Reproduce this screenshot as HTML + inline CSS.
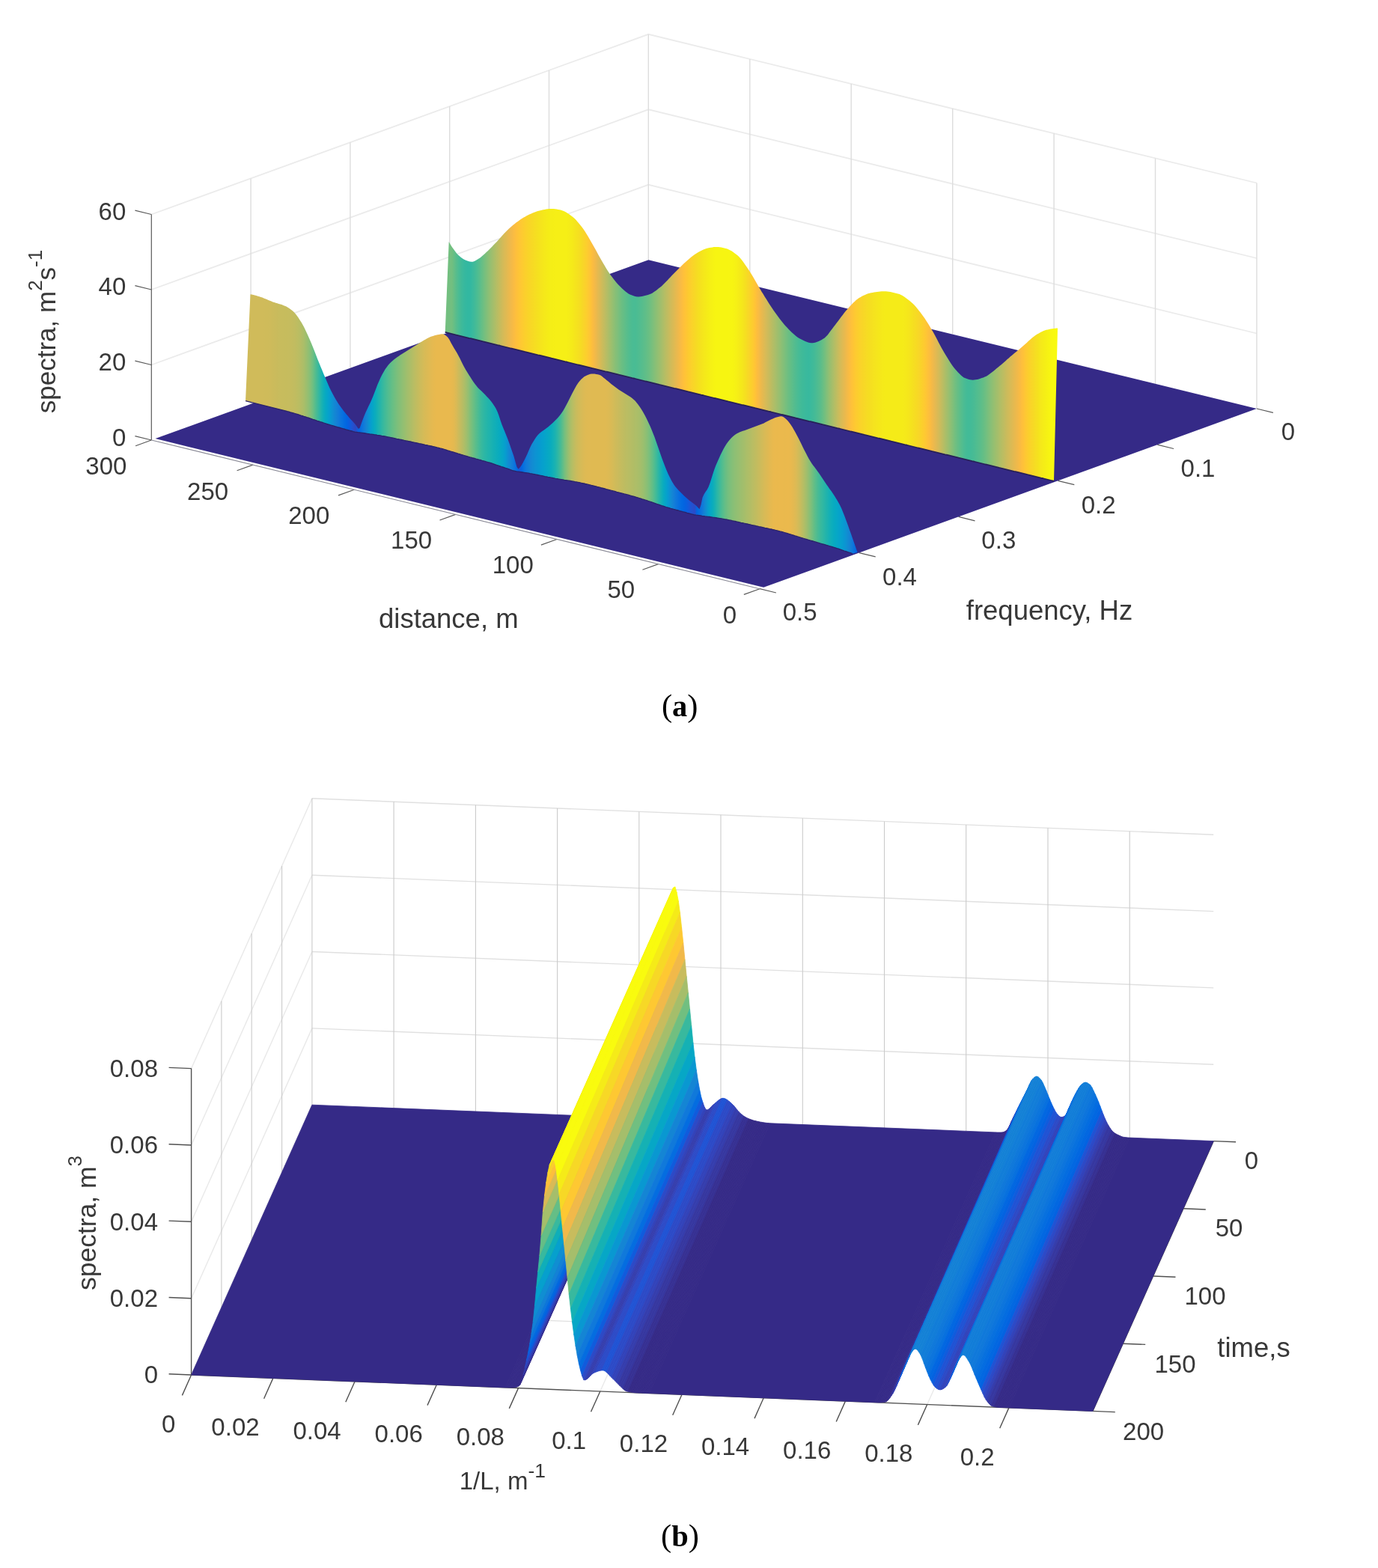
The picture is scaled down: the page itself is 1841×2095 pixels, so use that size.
<!DOCTYPE html>
<html lang="en"><head><meta charset="utf-8"><title>Spectra figure</title><style>html,body{margin:0;padding:0;background:#fff}svg{display:block}</style></head><body><svg width="1841" height="2095" viewBox="0 0 1841 2095">
<defs><linearGradient id="gb" gradientUnits="userSpaceOnUse" x1="594.7" y1="0" x2="1413.0" y2="0"><stop offset="0.0000" stop-color="#73bf80"/><stop offset="0.0037" stop-color="#73bf80"/><stop offset="0.0073" stop-color="#73bf80"/><stop offset="0.0110" stop-color="#73bf80"/><stop offset="0.0147" stop-color="#65be86"/><stop offset="0.0183" stop-color="#57bd8d"/><stop offset="0.0220" stop-color="#4bbc93"/><stop offset="0.0257" stop-color="#41ba98"/><stop offset="0.0293" stop-color="#3ab99d"/><stop offset="0.0330" stop-color="#35b89f"/><stop offset="0.0367" stop-color="#32b8a1"/><stop offset="0.0403" stop-color="#32b8a1"/><stop offset="0.0440" stop-color="#38b99e"/><stop offset="0.0477" stop-color="#40ba99"/><stop offset="0.0513" stop-color="#49bc94"/><stop offset="0.0550" stop-color="#54bd8e"/><stop offset="0.0587" stop-color="#61be88"/><stop offset="0.0623" stop-color="#6ebf82"/><stop offset="0.0660" stop-color="#7bbf7c"/><stop offset="0.0697" stop-color="#88bf77"/><stop offset="0.0733" stop-color="#94bf72"/><stop offset="0.0770" stop-color="#a0be6d"/><stop offset="0.0807" stop-color="#abbe68"/><stop offset="0.0843" stop-color="#b6bd64"/><stop offset="0.0880" stop-color="#c1bc5f"/><stop offset="0.0917" stop-color="#ccbb5b"/><stop offset="0.0953" stop-color="#d6ba57"/><stop offset="0.0990" stop-color="#deba53"/><stop offset="0.1027" stop-color="#e7b94f"/><stop offset="0.1063" stop-color="#efb94b"/><stop offset="0.1100" stop-color="#f6ba46"/><stop offset="0.1137" stop-color="#fcbd40"/><stop offset="0.1173" stop-color="#fec13a"/><stop offset="0.1210" stop-color="#fec536"/><stop offset="0.1246" stop-color="#fec932"/><stop offset="0.1283" stop-color="#fccd2e"/><stop offset="0.1320" stop-color="#fbd12b"/><stop offset="0.1356" stop-color="#f9d429"/><stop offset="0.1393" stop-color="#f8d726"/><stop offset="0.1430" stop-color="#f7da24"/><stop offset="0.1466" stop-color="#f6dd22"/><stop offset="0.1503" stop-color="#f5e020"/><stop offset="0.1540" stop-color="#f5e31e"/><stop offset="0.1576" stop-color="#f5e51c"/><stop offset="0.1613" stop-color="#f5e81a"/><stop offset="0.1650" stop-color="#f5ea19"/><stop offset="0.1686" stop-color="#f5ec17"/><stop offset="0.1723" stop-color="#f5ee17"/><stop offset="0.1760" stop-color="#f5ee16"/><stop offset="0.1796" stop-color="#f6ef16"/><stop offset="0.1833" stop-color="#f6ef16"/><stop offset="0.1870" stop-color="#f6ef16"/><stop offset="0.1906" stop-color="#f6ef16"/><stop offset="0.1943" stop-color="#f6ef16"/><stop offset="0.1980" stop-color="#f6ef16"/><stop offset="0.2016" stop-color="#f5ed17"/><stop offset="0.2053" stop-color="#f5eb19"/><stop offset="0.2090" stop-color="#f5e81a"/><stop offset="0.2126" stop-color="#f5e41d"/><stop offset="0.2163" stop-color="#f5e11f"/><stop offset="0.2200" stop-color="#f6dd22"/><stop offset="0.2236" stop-color="#f7d826"/><stop offset="0.2273" stop-color="#fad32a"/><stop offset="0.2310" stop-color="#fcce2e"/><stop offset="0.2346" stop-color="#fec833"/><stop offset="0.2383" stop-color="#fec13a"/><stop offset="0.2420" stop-color="#f9bb43"/><stop offset="0.2456" stop-color="#f0b94a"/><stop offset="0.2493" stop-color="#e4b950"/><stop offset="0.2530" stop-color="#d9ba56"/><stop offset="0.2566" stop-color="#ccbb5b"/><stop offset="0.2603" stop-color="#c1bc60"/><stop offset="0.2640" stop-color="#b5bd65"/><stop offset="0.2676" stop-color="#a9be69"/><stop offset="0.2713" stop-color="#9dbf6e"/><stop offset="0.2750" stop-color="#91bf73"/><stop offset="0.2786" stop-color="#86bf77"/><stop offset="0.2823" stop-color="#7cbf7c"/><stop offset="0.2860" stop-color="#71bf80"/><stop offset="0.2896" stop-color="#68be84"/><stop offset="0.2933" stop-color="#60be88"/><stop offset="0.2970" stop-color="#58bd8c"/><stop offset="0.3006" stop-color="#51bd8f"/><stop offset="0.3043" stop-color="#4cbc92"/><stop offset="0.3080" stop-color="#49bc94"/><stop offset="0.3116" stop-color="#4abc93"/><stop offset="0.3153" stop-color="#4ebc91"/><stop offset="0.3190" stop-color="#53bd8f"/><stop offset="0.3226" stop-color="#58bd8c"/><stop offset="0.3263" stop-color="#5ebe89"/><stop offset="0.3300" stop-color="#65be86"/><stop offset="0.3336" stop-color="#6dbf82"/><stop offset="0.3373" stop-color="#77bf7e"/><stop offset="0.3410" stop-color="#82bf79"/><stop offset="0.3446" stop-color="#8cbf75"/><stop offset="0.3483" stop-color="#96bf71"/><stop offset="0.3519" stop-color="#a1be6d"/><stop offset="0.3556" stop-color="#acbe68"/><stop offset="0.3593" stop-color="#b7bd64"/><stop offset="0.3629" stop-color="#c1bc60"/><stop offset="0.3666" stop-color="#cbbb5c"/><stop offset="0.3703" stop-color="#d5ba57"/><stop offset="0.3739" stop-color="#deba53"/><stop offset="0.3776" stop-color="#e8b94f"/><stop offset="0.3813" stop-color="#f1b94a"/><stop offset="0.3849" stop-color="#f9bb44"/><stop offset="0.3886" stop-color="#febf3c"/><stop offset="0.3923" stop-color="#ffc436"/><stop offset="0.3959" stop-color="#fdc931"/><stop offset="0.3996" stop-color="#fcce2d"/><stop offset="0.4033" stop-color="#fad32a"/><stop offset="0.4069" stop-color="#f8d726"/><stop offset="0.4106" stop-color="#f6db23"/><stop offset="0.4143" stop-color="#f5e020"/><stop offset="0.4179" stop-color="#f5e31d"/><stop offset="0.4216" stop-color="#f5e71b"/><stop offset="0.4253" stop-color="#f5ea19"/><stop offset="0.4289" stop-color="#f5ed17"/><stop offset="0.4326" stop-color="#f6f015"/><stop offset="0.4363" stop-color="#f6f214"/><stop offset="0.4399" stop-color="#f7f412"/><stop offset="0.4436" stop-color="#f7f512"/><stop offset="0.4473" stop-color="#f7f512"/><stop offset="0.4509" stop-color="#f7f511"/><stop offset="0.4546" stop-color="#f7f511"/><stop offset="0.4583" stop-color="#f7f511"/><stop offset="0.4619" stop-color="#f7f511"/><stop offset="0.4656" stop-color="#f7f512"/><stop offset="0.4693" stop-color="#f7f412"/><stop offset="0.4729" stop-color="#f6f214"/><stop offset="0.4766" stop-color="#f6ef16"/><stop offset="0.4803" stop-color="#f5eb18"/><stop offset="0.4839" stop-color="#f5e81b"/><stop offset="0.4876" stop-color="#f5e31e"/><stop offset="0.4913" stop-color="#f6dd22"/><stop offset="0.4949" stop-color="#f8d727"/><stop offset="0.4986" stop-color="#fbd12b"/><stop offset="0.5023" stop-color="#fdcb30"/><stop offset="0.5059" stop-color="#ffc436"/><stop offset="0.5096" stop-color="#fcbd3f"/><stop offset="0.5133" stop-color="#f4ba47"/><stop offset="0.5169" stop-color="#e9b94e"/><stop offset="0.5206" stop-color="#dfba53"/><stop offset="0.5243" stop-color="#d4bb58"/><stop offset="0.5279" stop-color="#cabb5c"/><stop offset="0.5316" stop-color="#bfbc60"/><stop offset="0.5353" stop-color="#b4bd65"/><stop offset="0.5389" stop-color="#aabe69"/><stop offset="0.5426" stop-color="#9fbe6d"/><stop offset="0.5463" stop-color="#95bf71"/><stop offset="0.5499" stop-color="#8abf76"/><stop offset="0.5536" stop-color="#7fbf7a"/><stop offset="0.5573" stop-color="#74bf7f"/><stop offset="0.5609" stop-color="#6abe83"/><stop offset="0.5646" stop-color="#61be87"/><stop offset="0.5683" stop-color="#59bd8c"/><stop offset="0.5719" stop-color="#51bc90"/><stop offset="0.5756" stop-color="#4abc94"/><stop offset="0.5792" stop-color="#44bb97"/><stop offset="0.5829" stop-color="#3fba99"/><stop offset="0.5866" stop-color="#3cba9b"/><stop offset="0.5902" stop-color="#3ab99d"/><stop offset="0.5939" stop-color="#38b99e"/><stop offset="0.5976" stop-color="#3cba9b"/><stop offset="0.6012" stop-color="#41ba98"/><stop offset="0.6049" stop-color="#48bb95"/><stop offset="0.6086" stop-color="#50bc90"/><stop offset="0.6122" stop-color="#58bd8c"/><stop offset="0.6159" stop-color="#64be86"/><stop offset="0.6196" stop-color="#73bf7f"/><stop offset="0.6232" stop-color="#83bf79"/><stop offset="0.6269" stop-color="#93bf72"/><stop offset="0.6306" stop-color="#a1be6c"/><stop offset="0.6342" stop-color="#aebe67"/><stop offset="0.6379" stop-color="#bbbd62"/><stop offset="0.6416" stop-color="#c8bc5d"/><stop offset="0.6452" stop-color="#d4bb58"/><stop offset="0.6489" stop-color="#dfba53"/><stop offset="0.6526" stop-color="#e9b94e"/><stop offset="0.6562" stop-color="#f3ba48"/><stop offset="0.6599" stop-color="#fbbc41"/><stop offset="0.6636" stop-color="#fec13a"/><stop offset="0.6672" stop-color="#fec634"/><stop offset="0.6709" stop-color="#fdcb30"/><stop offset="0.6746" stop-color="#fbcf2d"/><stop offset="0.6782" stop-color="#fad32a"/><stop offset="0.6819" stop-color="#f8d627"/><stop offset="0.6856" stop-color="#f7d925"/><stop offset="0.6892" stop-color="#f6dc23"/><stop offset="0.6929" stop-color="#f5de21"/><stop offset="0.6966" stop-color="#f5e020"/><stop offset="0.7002" stop-color="#f5e31e"/><stop offset="0.7039" stop-color="#f5e51d"/><stop offset="0.7076" stop-color="#f5e71b"/><stop offset="0.7112" stop-color="#f5e81a"/><stop offset="0.7149" stop-color="#f5ea19"/><stop offset="0.7186" stop-color="#f5eb18"/><stop offset="0.7222" stop-color="#f5eb18"/><stop offset="0.7259" stop-color="#f5eb18"/><stop offset="0.7296" stop-color="#f5eb18"/><stop offset="0.7332" stop-color="#f5eb18"/><stop offset="0.7369" stop-color="#f5eb18"/><stop offset="0.7406" stop-color="#f5eb18"/><stop offset="0.7442" stop-color="#f5eb18"/><stop offset="0.7479" stop-color="#f5eb19"/><stop offset="0.7516" stop-color="#f5e91a"/><stop offset="0.7552" stop-color="#f5e71b"/><stop offset="0.7589" stop-color="#f5e41d"/><stop offset="0.7626" stop-color="#f5e11f"/><stop offset="0.7662" stop-color="#f6dd22"/><stop offset="0.7699" stop-color="#f7da24"/><stop offset="0.7736" stop-color="#f8d628"/><stop offset="0.7772" stop-color="#fad12b"/><stop offset="0.7809" stop-color="#fdcc2f"/><stop offset="0.7846" stop-color="#fec734"/><stop offset="0.7882" stop-color="#fec13a"/><stop offset="0.7919" stop-color="#fbbc41"/><stop offset="0.7956" stop-color="#f2b949"/><stop offset="0.7992" stop-color="#e8b94f"/><stop offset="0.8029" stop-color="#ddba54"/><stop offset="0.8066" stop-color="#d1bb59"/><stop offset="0.8102" stop-color="#c4bc5f"/><stop offset="0.8139" stop-color="#b6bd64"/><stop offset="0.8175" stop-color="#a9be69"/><stop offset="0.8212" stop-color="#9cbf6e"/><stop offset="0.8249" stop-color="#8fbf74"/><stop offset="0.8285" stop-color="#82bf79"/><stop offset="0.8322" stop-color="#74bf7f"/><stop offset="0.8359" stop-color="#68be84"/><stop offset="0.8395" stop-color="#5ebe89"/><stop offset="0.8432" stop-color="#54bd8e"/><stop offset="0.8469" stop-color="#4cbc93"/><stop offset="0.8505" stop-color="#45bb96"/><stop offset="0.8542" stop-color="#42bb98"/><stop offset="0.8579" stop-color="#43bb97"/><stop offset="0.8615" stop-color="#47bb95"/><stop offset="0.8652" stop-color="#4cbc92"/><stop offset="0.8689" stop-color="#52bd8f"/><stop offset="0.8725" stop-color="#58bd8c"/><stop offset="0.8762" stop-color="#5fbe88"/><stop offset="0.8799" stop-color="#68be84"/><stop offset="0.8835" stop-color="#72bf80"/><stop offset="0.8872" stop-color="#7dbf7b"/><stop offset="0.8909" stop-color="#88bf77"/><stop offset="0.8945" stop-color="#92bf72"/><stop offset="0.8982" stop-color="#9cbf6e"/><stop offset="0.9019" stop-color="#a5be6b"/><stop offset="0.9055" stop-color="#afbe67"/><stop offset="0.9092" stop-color="#b8bd63"/><stop offset="0.9129" stop-color="#c1bc60"/><stop offset="0.9165" stop-color="#cabb5c"/><stop offset="0.9202" stop-color="#d2bb59"/><stop offset="0.9239" stop-color="#daba55"/><stop offset="0.9275" stop-color="#e2b951"/><stop offset="0.9312" stop-color="#eab94d"/><stop offset="0.9349" stop-color="#f2b949"/><stop offset="0.9385" stop-color="#f9bb43"/><stop offset="0.9422" stop-color="#febf3c"/><stop offset="0.9459" stop-color="#fec536"/><stop offset="0.9495" stop-color="#fdcb30"/><stop offset="0.9532" stop-color="#fbd02c"/><stop offset="0.9569" stop-color="#f9d528"/><stop offset="0.9605" stop-color="#f7d925"/><stop offset="0.9642" stop-color="#f6de22"/><stop offset="0.9679" stop-color="#f5e21e"/><stop offset="0.9715" stop-color="#f5e71b"/><stop offset="0.9752" stop-color="#f5eb18"/><stop offset="0.9789" stop-color="#f5ee16"/><stop offset="0.9825" stop-color="#f6f114"/><stop offset="0.9862" stop-color="#f7f412"/><stop offset="0.9899" stop-color="#f8f710"/><stop offset="0.9935" stop-color="#f8f90f"/><stop offset="0.9972" stop-color="#f9fa0e"/></linearGradient><linearGradient id="gf" gradientUnits="userSpaceOnUse" x1="328.0" y1="0" x2="1145.6" y2="0"><stop offset="0.0000" stop-color="#d0bb5a"/><stop offset="0.0037" stop-color="#d0bb5a"/><stop offset="0.0073" stop-color="#d0bb5a"/><stop offset="0.0110" stop-color="#d0bb5a"/><stop offset="0.0147" stop-color="#d0bb5a"/><stop offset="0.0183" stop-color="#d0bb5a"/><stop offset="0.0220" stop-color="#d0bb5a"/><stop offset="0.0257" stop-color="#d0bb5a"/><stop offset="0.0294" stop-color="#d0bb5a"/><stop offset="0.0330" stop-color="#cfbb5a"/><stop offset="0.0367" stop-color="#cfbb5a"/><stop offset="0.0404" stop-color="#cebb5b"/><stop offset="0.0440" stop-color="#ccbb5b"/><stop offset="0.0477" stop-color="#cbbb5c"/><stop offset="0.0514" stop-color="#c9bb5c"/><stop offset="0.0550" stop-color="#c8bc5d"/><stop offset="0.0587" stop-color="#c7bc5d"/><stop offset="0.0624" stop-color="#c7bc5d"/><stop offset="0.0660" stop-color="#c6bc5d"/><stop offset="0.0697" stop-color="#c6bc5e"/><stop offset="0.0734" stop-color="#c5bc5e"/><stop offset="0.0771" stop-color="#c3bc5f"/><stop offset="0.0807" stop-color="#c1bc60"/><stop offset="0.0844" stop-color="#bdbd61"/><stop offset="0.0881" stop-color="#b9bd63"/><stop offset="0.0917" stop-color="#b2bd66"/><stop offset="0.0954" stop-color="#aabe69"/><stop offset="0.0991" stop-color="#9ebe6d"/><stop offset="0.1027" stop-color="#91bf73"/><stop offset="0.1064" stop-color="#82bf79"/><stop offset="0.1101" stop-color="#6ebf82"/><stop offset="0.1137" stop-color="#57bd8c"/><stop offset="0.1174" stop-color="#41ba98"/><stop offset="0.1211" stop-color="#2db7a5"/><stop offset="0.1248" stop-color="#1ab2b1"/><stop offset="0.1284" stop-color="#0cadbc"/><stop offset="0.1321" stop-color="#06a7c5"/><stop offset="0.1358" stop-color="#06a1cd"/><stop offset="0.1394" stop-color="#0998d1"/><stop offset="0.1431" stop-color="#108ed2"/><stop offset="0.1468" stop-color="#1485d4"/><stop offset="0.1504" stop-color="#137ed7"/><stop offset="0.1541" stop-color="#0f77db"/><stop offset="0.1578" stop-color="#0972de"/><stop offset="0.1614" stop-color="#046ce0"/><stop offset="0.1651" stop-color="#0266e1"/><stop offset="0.1688" stop-color="#095fdf"/><stop offset="0.1725" stop-color="#1857d8"/><stop offset="0.1761" stop-color="#254fce"/><stop offset="0.1798" stop-color="#2e48c2"/><stop offset="0.1835" stop-color="#0d5dde"/><stop offset="0.1871" stop-color="#036be1"/><stop offset="0.1908" stop-color="#0c74dd"/><stop offset="0.1945" stop-color="#137dd8"/><stop offset="0.1981" stop-color="#1487d3"/><stop offset="0.2018" stop-color="#0b95d2"/><stop offset="0.2055" stop-color="#06a0cd"/><stop offset="0.2091" stop-color="#06a8c4"/><stop offset="0.2128" stop-color="#0dadbb"/><stop offset="0.2165" stop-color="#19b2b1"/><stop offset="0.2202" stop-color="#26b5a9"/><stop offset="0.2238" stop-color="#33b8a1"/><stop offset="0.2275" stop-color="#40ba99"/><stop offset="0.2312" stop-color="#4cbc93"/><stop offset="0.2348" stop-color="#57bd8d"/><stop offset="0.2385" stop-color="#62be87"/><stop offset="0.2422" stop-color="#6cbf82"/><stop offset="0.2458" stop-color="#76bf7e"/><stop offset="0.2495" stop-color="#80bf7a"/><stop offset="0.2532" stop-color="#88bf76"/><stop offset="0.2568" stop-color="#91bf73"/><stop offset="0.2605" stop-color="#99bf6f"/><stop offset="0.2642" stop-color="#a2be6c"/><stop offset="0.2679" stop-color="#a9be69"/><stop offset="0.2715" stop-color="#b1bd66"/><stop offset="0.2752" stop-color="#b9bd63"/><stop offset="0.2789" stop-color="#c0bc60"/><stop offset="0.2825" stop-color="#c6bc5d"/><stop offset="0.2862" stop-color="#cdbb5b"/><stop offset="0.2899" stop-color="#d3bb58"/><stop offset="0.2935" stop-color="#d8ba56"/><stop offset="0.2972" stop-color="#dcba54"/><stop offset="0.3009" stop-color="#e0ba53"/><stop offset="0.3045" stop-color="#e4b951"/><stop offset="0.3082" stop-color="#e7b94f"/><stop offset="0.3119" stop-color="#e9b94e"/><stop offset="0.3156" stop-color="#e9b94e"/><stop offset="0.3192" stop-color="#e9b94e"/><stop offset="0.3229" stop-color="#e9b94e"/><stop offset="0.3266" stop-color="#e9b94e"/><stop offset="0.3302" stop-color="#e9b94e"/><stop offset="0.3339" stop-color="#e9b94e"/><stop offset="0.3376" stop-color="#e7b94f"/><stop offset="0.3412" stop-color="#e2b951"/><stop offset="0.3449" stop-color="#d8ba56"/><stop offset="0.3486" stop-color="#cbbb5c"/><stop offset="0.3523" stop-color="#c0bc60"/><stop offset="0.3559" stop-color="#b4bd65"/><stop offset="0.3596" stop-color="#a6be6a"/><stop offset="0.3633" stop-color="#96bf71"/><stop offset="0.3669" stop-color="#84bf78"/><stop offset="0.3706" stop-color="#73bf7f"/><stop offset="0.3743" stop-color="#63be87"/><stop offset="0.3779" stop-color="#54bd8e"/><stop offset="0.3816" stop-color="#46bb96"/><stop offset="0.3853" stop-color="#39b99d"/><stop offset="0.3889" stop-color="#30b7a3"/><stop offset="0.3926" stop-color="#28b6a7"/><stop offset="0.3963" stop-color="#22b4ab"/><stop offset="0.4000" stop-color="#1db3af"/><stop offset="0.4036" stop-color="#17b1b3"/><stop offset="0.4073" stop-color="#12afb7"/><stop offset="0.4110" stop-color="#0dadbb"/><stop offset="0.4146" stop-color="#09abbf"/><stop offset="0.4183" stop-color="#06a8c4"/><stop offset="0.4220" stop-color="#06a3ca"/><stop offset="0.4256" stop-color="#089ad0"/><stop offset="0.4293" stop-color="#118dd2"/><stop offset="0.4330" stop-color="#1483d5"/><stop offset="0.4366" stop-color="#117bd9"/><stop offset="0.4403" stop-color="#0a72de"/><stop offset="0.4440" stop-color="#0268e1"/><stop offset="0.4477" stop-color="#1857d8"/><stop offset="0.4513" stop-color="#0267e1"/><stop offset="0.4550" stop-color="#0972de"/><stop offset="0.4587" stop-color="#117ada"/><stop offset="0.4623" stop-color="#1480d6"/><stop offset="0.4660" stop-color="#1487d3"/><stop offset="0.4697" stop-color="#118dd2"/><stop offset="0.4733" stop-color="#0e92d2"/><stop offset="0.4770" stop-color="#0a96d1"/><stop offset="0.4807" stop-color="#089ad0"/><stop offset="0.4843" stop-color="#069fce"/><stop offset="0.4880" stop-color="#06a2cb"/><stop offset="0.4917" stop-color="#06a6c7"/><stop offset="0.4954" stop-color="#07a9c3"/><stop offset="0.4990" stop-color="#0aacbd"/><stop offset="0.5027" stop-color="#12b0b7"/><stop offset="0.5064" stop-color="#1db3af"/><stop offset="0.5100" stop-color="#2db7a5"/><stop offset="0.5137" stop-color="#40ba99"/><stop offset="0.5174" stop-color="#58bd8c"/><stop offset="0.5210" stop-color="#72bf80"/><stop offset="0.5247" stop-color="#89bf76"/><stop offset="0.5284" stop-color="#9ebe6e"/><stop offset="0.5320" stop-color="#aebe67"/><stop offset="0.5357" stop-color="#bbbd62"/><stop offset="0.5394" stop-color="#c6bc5e"/><stop offset="0.5431" stop-color="#cebb5a"/><stop offset="0.5467" stop-color="#d4bb58"/><stop offset="0.5504" stop-color="#d9ba56"/><stop offset="0.5541" stop-color="#ddba54"/><stop offset="0.5577" stop-color="#dfba53"/><stop offset="0.5614" stop-color="#e0ba53"/><stop offset="0.5651" stop-color="#e0ba52"/><stop offset="0.5687" stop-color="#e0ba52"/><stop offset="0.5724" stop-color="#e0ba52"/><stop offset="0.5761" stop-color="#e0ba52"/><stop offset="0.5797" stop-color="#e0ba52"/><stop offset="0.5834" stop-color="#e0ba52"/><stop offset="0.5871" stop-color="#e0ba52"/><stop offset="0.5908" stop-color="#dfba53"/><stop offset="0.5944" stop-color="#dcba54"/><stop offset="0.5981" stop-color="#d8ba56"/><stop offset="0.6018" stop-color="#d3bb58"/><stop offset="0.6054" stop-color="#cebb5a"/><stop offset="0.6091" stop-color="#cabb5c"/><stop offset="0.6128" stop-color="#c5bc5e"/><stop offset="0.6164" stop-color="#c1bc60"/><stop offset="0.6201" stop-color="#bdbc61"/><stop offset="0.6238" stop-color="#babd63"/><stop offset="0.6274" stop-color="#b7bd64"/><stop offset="0.6311" stop-color="#b4bd65"/><stop offset="0.6348" stop-color="#b0bd66"/><stop offset="0.6385" stop-color="#adbe68"/><stop offset="0.6421" stop-color="#a9be69"/><stop offset="0.6458" stop-color="#a4be6b"/><stop offset="0.6495" stop-color="#9cbf6e"/><stop offset="0.6531" stop-color="#92bf72"/><stop offset="0.6568" stop-color="#86bf77"/><stop offset="0.6605" stop-color="#77bf7e"/><stop offset="0.6641" stop-color="#66be85"/><stop offset="0.6678" stop-color="#52bd8f"/><stop offset="0.6715" stop-color="#3eba9a"/><stop offset="0.6751" stop-color="#2ab6a6"/><stop offset="0.6788" stop-color="#19b2b2"/><stop offset="0.6825" stop-color="#0aacbe"/><stop offset="0.6862" stop-color="#06a5c8"/><stop offset="0.6898" stop-color="#079cd0"/><stop offset="0.6935" stop-color="#0e91d2"/><stop offset="0.6972" stop-color="#1486d4"/><stop offset="0.7008" stop-color="#137dd8"/><stop offset="0.7045" stop-color="#0e76dc"/><stop offset="0.7082" stop-color="#0870df"/><stop offset="0.7118" stop-color="#036be1"/><stop offset="0.7155" stop-color="#0266e1"/><stop offset="0.7192" stop-color="#0661e0"/><stop offset="0.7228" stop-color="#0f5cdd"/><stop offset="0.7265" stop-color="#1b55d6"/><stop offset="0.7302" stop-color="#2450cf"/><stop offset="0.7339" stop-color="#2b4bc7"/><stop offset="0.7375" stop-color="#0265e1"/><stop offset="0.7412" stop-color="#056ee0"/><stop offset="0.7449" stop-color="#0d75dc"/><stop offset="0.7485" stop-color="#137fd6"/><stop offset="0.7522" stop-color="#108ed2"/><stop offset="0.7559" stop-color="#079dcf"/><stop offset="0.7595" stop-color="#06a6c7"/><stop offset="0.7632" stop-color="#0aacbd"/><stop offset="0.7669" stop-color="#18b1b2"/><stop offset="0.7705" stop-color="#29b6a7"/><stop offset="0.7742" stop-color="#3bb99c"/><stop offset="0.7779" stop-color="#4cbc92"/><stop offset="0.7816" stop-color="#5cbe8a"/><stop offset="0.7852" stop-color="#6abe83"/><stop offset="0.7889" stop-color="#76bf7e"/><stop offset="0.7926" stop-color="#7fbf7a"/><stop offset="0.7962" stop-color="#87bf77"/><stop offset="0.7999" stop-color="#8ebf74"/><stop offset="0.8036" stop-color="#93bf72"/><stop offset="0.8072" stop-color="#99bf70"/><stop offset="0.8109" stop-color="#9fbe6d"/><stop offset="0.8146" stop-color="#a4be6b"/><stop offset="0.8182" stop-color="#aabe69"/><stop offset="0.8219" stop-color="#afbe67"/><stop offset="0.8256" stop-color="#b4bd65"/><stop offset="0.8293" stop-color="#babd63"/><stop offset="0.8329" stop-color="#bfbc60"/><stop offset="0.8366" stop-color="#c5bc5e"/><stop offset="0.8403" stop-color="#cbbb5c"/><stop offset="0.8439" stop-color="#d1bb59"/><stop offset="0.8476" stop-color="#d7ba57"/><stop offset="0.8513" stop-color="#dcba54"/><stop offset="0.8549" stop-color="#e1b952"/><stop offset="0.8586" stop-color="#e5b950"/><stop offset="0.8623" stop-color="#e9b94e"/><stop offset="0.8659" stop-color="#ebb94d"/><stop offset="0.8696" stop-color="#eab94d"/><stop offset="0.8733" stop-color="#ebb94d"/><stop offset="0.8770" stop-color="#ebb94d"/><stop offset="0.8806" stop-color="#eab94d"/><stop offset="0.8843" stop-color="#ebb94d"/><stop offset="0.8880" stop-color="#ebb94d"/><stop offset="0.8916" stop-color="#e8b94f"/><stop offset="0.8953" stop-color="#e3b951"/><stop offset="0.8990" stop-color="#ddba54"/><stop offset="0.9026" stop-color="#d4bb58"/><stop offset="0.9063" stop-color="#c9bc5c"/><stop offset="0.9100" stop-color="#bcbd62"/><stop offset="0.9136" stop-color="#aebe67"/><stop offset="0.9173" stop-color="#9fbe6d"/><stop offset="0.9210" stop-color="#8dbf74"/><stop offset="0.9247" stop-color="#7bbf7c"/><stop offset="0.9283" stop-color="#68be84"/><stop offset="0.9320" stop-color="#56bd8d"/><stop offset="0.9357" stop-color="#47bb95"/><stop offset="0.9393" stop-color="#3bb99c"/><stop offset="0.9430" stop-color="#31b8a2"/><stop offset="0.9467" stop-color="#27b5a8"/><stop offset="0.9503" stop-color="#1eb3ae"/><stop offset="0.9540" stop-color="#15b0b5"/><stop offset="0.9577" stop-color="#0daebb"/><stop offset="0.9614" stop-color="#08abc0"/><stop offset="0.9650" stop-color="#06a8c5"/><stop offset="0.9687" stop-color="#06a4c9"/><stop offset="0.9724" stop-color="#06a1cd"/><stop offset="0.9760" stop-color="#079cd0"/><stop offset="0.9797" stop-color="#0b95d2"/><stop offset="0.9834" stop-color="#118dd2"/><stop offset="0.9870" stop-color="#1484d4"/><stop offset="0.9907" stop-color="#127bd9"/><stop offset="0.9944" stop-color="#0a72de"/><stop offset="0.9980" stop-color="#0267e1"/></linearGradient></defs>
<rect width="1841" height="2095" fill="#ffffff"/>
<g id="plot-a"><g fill="none" stroke="#ebebeb" stroke-width="1.8"><polyline points="202.3,487.5 866.3,246.8 1679.0,445.5"/><polyline points="202.3,387.0 866.3,146.3 1679.0,345.0"/><polyline points="202.3,286.5 866.3,45.8 1679.0,244.5"/></g>
<g fill="none" stroke="#dddddd" stroke-width="1.4"><line x1="335.1" y1="539.9" x2="335.1" y2="238.4"/><line x1="467.9" y1="491.7" x2="467.9" y2="190.2"/><line x1="600.7" y1="443.6" x2="600.7" y2="142.1"/><line x1="733.5" y1="395.4" x2="733.5" y2="93.9"/><line x1="866.3" y1="347.3" x2="866.3" y2="45.8"/><line x1="1001.8" y1="380.4" x2="1001.8" y2="78.9"/><line x1="1137.2" y1="413.5" x2="1137.2" y2="112.0"/><line x1="1272.7" y1="446.6" x2="1272.7" y2="145.1"/><line x1="1408.1" y1="479.8" x2="1408.1" y2="178.3"/><line x1="1543.5" y1="512.9" x2="1543.5" y2="211.4"/><line x1="1679.0" y1="546.0" x2="1679.0" y2="244.5"/></g>
<g fill="none" stroke="#5a5a5a" stroke-width="1.2"><line x1="202.3" y1="588.0" x2="202.3" y2="286.5"/><line x1="202.3" y1="588.0" x2="180.4" y2="582.7"/><line x1="202.3" y1="487.5" x2="180.4" y2="482.2"/><line x1="202.3" y1="387.0" x2="180.4" y2="381.7"/><line x1="202.3" y1="286.5" x2="180.4" y2="281.2"/><line x1="1015.0" y1="786.7" x2="993.8" y2="794.4"/><line x1="879.5" y1="753.6" x2="858.4" y2="761.3"/><line x1="744.1" y1="720.5" x2="722.9" y2="728.1"/><line x1="608.6" y1="687.4" x2="587.5" y2="695.0"/><line x1="473.2" y1="654.2" x2="452.0" y2="661.9"/><line x1="337.8" y1="621.1" x2="316.6" y2="628.8"/><line x1="202.3" y1="588.0" x2="181.1" y2="595.7"/><line x1="1679.0" y1="546.0" x2="1700.9" y2="551.3"/><line x1="1546.2" y1="594.1" x2="1568.1" y2="599.5"/><line x1="1413.4" y1="642.3" x2="1435.3" y2="647.6"/><line x1="1280.6" y1="690.4" x2="1302.5" y2="695.8"/><line x1="1147.8" y1="738.6" x2="1169.7" y2="743.9"/><line x1="1015.0" y1="786.7" x2="1036.9" y2="792.0"/></g>
<line x1="202.3" y1="588.0" x2="1015.0" y2="786.7" stroke="#8a8a96" stroke-width="1.1"/>
<polygon points="207.5,586.1 1020.2,784.8 1679.0,546.0 866.3,347.3" fill="#352a87"/>
<polygon points="599.7,323.0 601.7,326.4 603.7,329.7 605.7,332.6 607.7,335.3 609.7,337.9 611.7,340.2 613.7,342.1 615.7,343.7 617.7,345.2 619.7,346.4 621.7,347.4 623.7,348.2 625.7,348.9 627.7,349.5 629.7,349.8 631.7,349.7 633.7,349.0 635.7,348.0 637.7,346.8 639.7,345.6 641.7,344.2 643.7,342.5 645.7,340.7 647.7,339.0 649.7,337.1 651.7,335.2 653.7,333.3 655.7,331.2 657.7,329.2 659.7,327.1 661.7,325.0 663.7,322.9 665.7,320.7 667.7,318.5 669.7,316.2 671.7,314.0 673.7,311.8 675.7,309.7 677.7,307.7 679.7,305.8 681.7,304.0 683.7,302.2 685.7,300.5 687.7,298.9 689.7,297.3 691.7,295.9 693.7,294.5 695.7,293.1 697.7,291.8 699.7,290.6 701.7,289.4 703.7,288.2 705.7,287.2 707.7,286.3 709.7,285.4 711.7,284.6 713.7,283.8 715.7,283.0 717.7,282.3 719.7,281.7 721.7,281.2 723.7,280.7 725.7,280.3 727.7,279.9 729.7,279.6 731.7,279.3 733.7,279.0 735.7,278.9 737.7,278.9 739.7,279.0 741.7,279.2 743.7,279.5 745.7,279.9 747.7,280.3 749.7,280.7 751.7,281.4 753.7,282.2 755.7,283.2 757.7,284.5 759.7,285.8 761.7,287.3 763.7,288.8 765.7,290.3 767.7,292.1 769.7,294.1 771.7,296.4 773.7,298.7 775.7,301.2 777.7,303.8 779.7,306.6 781.7,309.6 783.7,312.8 785.7,316.1 787.7,319.5 789.7,322.9 791.7,326.4 793.7,329.9 795.7,333.6 797.7,337.3 799.7,340.9 801.7,344.5 803.7,348.0 805.7,351.4 807.7,354.8 809.7,358.2 811.7,361.4 813.7,364.5 815.7,367.4 817.7,370.1 819.7,372.7 821.7,375.3 823.7,377.7 825.7,379.9 827.7,382.0 829.7,384.0 831.7,385.9 833.7,387.7 835.7,389.5 837.7,391.0 839.7,392.4 841.7,393.4 843.7,394.3 845.7,395.1 847.7,395.8 849.7,396.3 851.7,396.5 853.7,396.4 855.7,396.2 857.7,395.9 859.7,395.5 861.7,395.0 863.7,394.5 865.7,393.9 867.7,393.3 869.7,392.5 871.7,391.4 873.7,390.1 875.7,388.7 877.7,387.2 879.7,385.6 881.7,384.0 883.7,382.4 885.7,380.6 887.7,378.6 889.7,376.6 891.7,374.5 893.7,372.3 895.7,370.2 897.7,368.1 899.7,366.1 901.7,364.0 903.7,362.0 905.7,359.9 907.7,357.9 909.7,355.9 911.7,354.0 913.7,352.1 915.7,350.3 917.7,348.5 919.7,346.7 921.7,344.9 923.7,343.3 925.7,341.7 927.7,340.3 929.7,339.0 931.7,337.8 933.7,336.6 935.7,335.5 937.7,334.4 939.7,333.5 941.7,332.7 943.7,332.1 945.7,331.6 947.7,331.1 949.7,330.7 951.7,330.4 953.7,330.1 955.7,329.9 957.7,329.9 959.7,330.0 961.7,330.3 963.7,330.6 965.7,331.0 967.7,331.5 969.7,332.0 971.7,332.6 973.7,333.4 975.7,334.4 977.7,335.6 979.7,336.9 981.7,338.4 983.7,339.9 985.7,341.5 987.7,343.4 989.7,345.7 991.7,348.2 993.7,351.0 995.7,353.9 997.7,356.8 999.7,359.8 1001.7,362.8 1003.7,366.0 1005.7,369.3 1007.7,372.8 1009.7,376.3 1011.7,379.8 1013.7,383.3 1015.7,386.6 1017.7,389.9 1019.7,393.1 1021.7,396.4 1023.7,399.6 1025.7,402.8 1027.7,406.0 1029.7,409.0 1031.7,412.0 1033.7,414.9 1035.7,417.7 1037.7,420.5 1039.7,423.2 1041.7,425.9 1043.7,428.5 1045.7,431.1 1047.7,433.5 1049.7,435.7 1051.7,437.8 1053.7,439.9 1055.7,441.9 1057.7,443.9 1059.7,445.8 1061.7,447.5 1063.7,449.2 1065.7,450.7 1067.7,451.9 1069.7,453.0 1071.7,454.0 1073.7,455.0 1075.7,456.0 1077.7,456.8 1079.7,457.5 1081.7,458.0 1083.7,458.3 1085.7,458.3 1087.7,458.0 1089.7,457.5 1091.7,456.8 1093.7,455.9 1095.7,455.0 1097.7,453.9 1099.7,452.8 1101.7,451.5 1103.7,449.6 1105.7,447.4 1107.7,444.8 1109.7,442.1 1111.7,439.4 1113.7,436.7 1115.7,434.2 1117.7,431.6 1119.7,429.0 1121.7,426.3 1123.7,423.6 1125.7,420.9 1127.7,418.3 1129.7,415.7 1131.7,413.4 1133.7,411.2 1135.7,409.0 1137.7,406.9 1139.7,404.8 1141.7,402.9 1143.7,401.1 1145.7,399.5 1147.7,398.1 1149.7,396.9 1151.7,395.8 1153.7,394.8 1155.7,393.9 1157.7,393.0 1159.7,392.3 1161.7,391.7 1163.7,391.2 1165.7,390.9 1167.7,390.5 1169.7,390.2 1171.7,389.9 1173.7,389.7 1175.7,389.5 1177.7,389.3 1179.7,389.2 1181.7,389.2 1183.7,389.3 1185.7,389.4 1187.7,389.7 1189.7,390.0 1191.7,390.4 1193.7,390.9 1195.7,391.4 1197.7,391.9 1199.7,392.5 1201.7,393.1 1203.7,394.0 1205.7,395.1 1207.7,396.3 1209.7,397.7 1211.7,399.2 1213.7,400.7 1215.7,402.3 1217.7,404.0 1219.7,405.8 1221.7,407.8 1223.7,410.1 1225.7,412.4 1227.7,415.0 1229.7,417.6 1231.7,420.2 1233.7,423.0 1235.7,425.8 1237.7,428.9 1239.7,432.0 1241.7,435.3 1243.7,438.7 1245.7,442.1 1247.7,445.6 1249.7,449.2 1251.7,453.0 1253.7,456.9 1255.7,460.7 1257.7,464.5 1259.7,468.0 1261.7,471.4 1263.7,474.8 1265.7,478.1 1267.7,481.3 1269.7,484.4 1271.7,487.4 1273.7,490.2 1275.7,492.7 1277.7,494.9 1279.7,497.2 1281.7,499.3 1283.7,501.3 1285.7,503.0 1287.7,504.4 1289.7,505.3 1291.7,506.0 1293.7,506.7 1295.7,507.2 1297.7,507.6 1299.7,507.7 1301.7,507.6 1303.7,507.3 1305.7,506.9 1307.7,506.4 1309.7,505.8 1311.7,505.1 1313.7,504.4 1315.7,503.6 1317.7,502.7 1319.7,501.5 1321.7,500.1 1323.7,498.6 1325.7,497.0 1327.7,495.4 1329.7,493.7 1331.7,492.1 1333.7,490.5 1335.7,488.8 1337.7,487.2 1339.7,485.4 1341.7,483.7 1343.7,481.9 1345.7,480.1 1347.7,478.4 1349.7,476.6 1351.7,474.9 1353.7,473.3 1355.7,471.6 1357.7,470.0 1359.7,468.3 1361.7,466.7 1363.7,465.0 1365.7,463.3 1367.7,461.6 1369.7,459.8 1371.7,457.9 1373.7,456.1 1375.7,454.2 1377.7,452.4 1379.7,450.7 1381.7,449.2 1383.7,447.8 1385.7,446.6 1387.7,445.5 1389.7,444.3 1391.7,443.3 1393.7,442.3 1395.7,441.5 1397.7,440.8 1399.7,440.4 1401.7,440.0 1403.7,439.6 1405.7,439.2 1407.7,439.0 1409.7,438.7 1411.7,438.6 1413.0,438.6 1408.0,642.8 1406.7,642.5 1404.7,642.0 1402.7,641.5 1400.7,641.0 1398.7,640.5 1396.7,640.0 1394.7,639.5 1392.7,639.0 1390.7,638.6 1388.7,638.1 1386.7,637.6 1384.7,637.1 1382.7,636.6 1380.7,636.1 1378.7,635.6 1376.7,635.1 1374.7,634.6 1372.7,634.2 1370.7,633.7 1368.7,633.2 1366.7,632.7 1364.7,632.2 1362.7,631.7 1360.7,631.2 1358.7,630.7 1356.7,630.2 1354.7,629.8 1352.7,629.3 1350.7,628.8 1348.7,628.3 1346.7,627.8 1344.7,627.3 1342.7,626.8 1340.7,626.3 1338.7,625.8 1336.7,625.3 1334.7,624.9 1332.7,624.4 1330.7,623.9 1328.7,623.4 1326.7,622.9 1324.7,622.4 1322.7,621.9 1320.7,621.4 1318.7,620.9 1316.7,620.5 1314.7,620.0 1312.7,619.5 1310.7,619.0 1308.7,618.5 1306.7,618.0 1304.7,617.5 1302.7,617.0 1300.7,616.5 1298.7,616.1 1296.7,615.6 1294.7,615.1 1292.7,614.6 1290.7,614.1 1288.7,613.6 1286.7,613.1 1284.7,612.6 1282.7,612.1 1280.7,611.7 1278.7,611.2 1276.7,610.7 1274.7,610.2 1272.7,609.7 1270.7,609.2 1268.7,608.7 1266.7,608.2 1264.7,607.7 1262.7,607.3 1260.7,606.8 1258.7,606.3 1256.7,605.8 1254.7,605.3 1252.7,604.8 1250.7,604.3 1248.7,603.8 1246.7,603.3 1244.7,602.9 1242.7,602.4 1240.7,601.9 1238.7,601.4 1236.7,600.9 1234.7,600.4 1232.7,599.9 1230.7,599.4 1228.7,598.9 1226.7,598.5 1224.7,598.0 1222.7,597.5 1220.7,597.0 1218.7,596.5 1216.7,596.0 1214.7,595.5 1212.7,595.0 1210.7,594.5 1208.7,594.1 1206.7,593.6 1204.7,593.1 1202.7,592.6 1200.7,592.1 1198.7,591.6 1196.7,591.1 1194.7,590.6 1192.7,590.1 1190.7,589.7 1188.7,589.2 1186.7,588.7 1184.7,588.2 1182.7,587.7 1180.7,587.2 1178.7,586.7 1176.7,586.2 1174.7,585.7 1172.7,585.3 1170.7,584.8 1168.7,584.3 1166.7,583.8 1164.7,583.3 1162.7,582.8 1160.7,582.3 1158.7,581.8 1156.7,581.3 1154.7,580.9 1152.7,580.4 1150.7,579.9 1148.7,579.4 1146.7,578.9 1144.7,578.4 1142.7,577.9 1140.7,577.4 1138.7,576.9 1136.7,576.5 1134.7,576.0 1132.7,575.5 1130.7,575.0 1128.7,574.5 1126.7,574.0 1124.7,573.5 1122.7,573.0 1120.7,572.5 1118.7,572.1 1116.7,571.6 1114.7,571.1 1112.7,570.6 1110.7,570.1 1108.7,569.6 1106.7,569.1 1104.7,568.6 1102.7,568.1 1100.7,567.6 1098.7,567.2 1096.7,566.7 1094.7,566.2 1092.7,565.7 1090.7,565.2 1088.7,564.7 1086.7,564.2 1084.7,563.7 1082.7,563.2 1080.7,562.8 1078.7,562.3 1076.7,561.8 1074.7,561.3 1072.7,560.8 1070.7,560.3 1068.7,559.8 1066.7,559.3 1064.7,558.8 1062.7,558.4 1060.7,557.9 1058.7,557.4 1056.7,556.9 1054.7,556.4 1052.7,555.9 1050.7,555.4 1048.7,554.9 1046.7,554.4 1044.7,554.0 1042.7,553.5 1040.7,553.0 1038.7,552.5 1036.7,552.0 1034.7,551.5 1032.7,551.0 1030.7,550.5 1028.7,550.0 1026.7,549.6 1024.7,549.1 1022.7,548.6 1020.7,548.1 1018.7,547.6 1016.7,547.1 1014.7,546.6 1012.7,546.1 1010.7,545.6 1008.7,545.2 1006.7,544.7 1004.7,544.2 1002.7,543.7 1000.7,543.2 998.7,542.7 996.7,542.2 994.7,541.7 992.7,541.2 990.7,540.8 988.7,540.3 986.7,539.8 984.7,539.3 982.7,538.8 980.7,538.3 978.7,537.8 976.7,537.3 974.7,536.8 972.7,536.4 970.7,535.9 968.7,535.4 966.7,534.9 964.7,534.4 962.7,533.9 960.7,533.4 958.7,532.9 956.7,532.4 954.7,532.0 952.7,531.5 950.7,531.0 948.7,530.5 946.7,530.0 944.7,529.5 942.7,529.0 940.7,528.5 938.7,528.0 936.7,527.6 934.7,527.1 932.7,526.6 930.7,526.1 928.7,525.6 926.7,525.1 924.7,524.6 922.7,524.1 920.7,523.6 918.7,523.2 916.7,522.7 914.7,522.2 912.7,521.7 910.7,521.2 908.7,520.7 906.7,520.2 904.7,519.7 902.7,519.2 900.7,518.8 898.7,518.3 896.7,517.8 894.7,517.3 892.7,516.8 890.7,516.3 888.7,515.8 886.7,515.3 884.7,514.8 882.7,514.3 880.7,513.9 878.7,513.4 876.7,512.9 874.7,512.4 872.7,511.9 870.7,511.4 868.7,510.9 866.7,510.4 864.7,509.9 862.7,509.5 860.7,509.0 858.7,508.5 856.7,508.0 854.7,507.5 852.7,507.0 850.7,506.5 848.7,506.0 846.7,505.5 844.7,505.1 842.7,504.6 840.7,504.1 838.7,503.6 836.7,503.1 834.7,502.6 832.7,502.1 830.7,501.6 828.7,501.1 826.7,500.7 824.7,500.2 822.7,499.7 820.7,499.2 818.7,498.7 816.7,498.2 814.7,497.7 812.7,497.2 810.7,496.7 808.7,496.3 806.7,495.8 804.7,495.3 802.7,494.8 800.7,494.3 798.7,493.8 796.7,493.3 794.7,492.8 792.7,492.3 790.7,491.9 788.7,491.4 786.7,490.9 784.7,490.4 782.7,489.9 780.7,489.4 778.7,488.9 776.7,488.4 774.7,487.9 772.7,487.5 770.7,487.0 768.7,486.5 766.7,486.0 764.7,485.5 762.7,485.0 760.7,484.5 758.7,484.0 756.7,483.5 754.7,483.1 752.7,482.6 750.7,482.1 748.7,481.6 746.7,481.1 744.7,480.6 742.7,480.1 740.7,479.6 738.7,479.1 736.7,478.7 734.7,478.2 732.7,477.7 730.7,477.2 728.7,476.7 726.7,476.2 724.7,475.7 722.7,475.2 720.7,474.7 718.7,474.3 716.7,473.8 714.7,473.3 712.7,472.8 710.7,472.3 708.7,471.8 706.7,471.3 704.7,470.8 702.7,470.3 700.7,469.9 698.7,469.4 696.7,468.9 694.7,468.4 692.7,467.9 690.7,467.4 688.7,466.9 686.7,466.4 684.7,465.9 682.7,465.5 680.7,465.0 678.7,464.5 676.7,464.0 674.7,463.5 672.7,463.0 670.7,462.5 668.7,462.0 666.7,461.5 664.7,461.1 662.7,460.6 660.7,460.1 658.7,459.6 656.7,459.1 654.7,458.6 652.7,458.1 650.7,457.6 648.7,457.1 646.7,456.6 644.7,456.2 642.7,455.7 640.7,455.2 638.7,454.7 636.7,454.2 634.7,453.7 632.7,453.2 630.7,452.7 628.7,452.2 626.7,451.8 624.7,451.3 622.7,450.8 620.7,450.3 618.7,449.8 616.7,449.3 614.7,448.8 612.7,448.3 610.7,447.8 608.7,447.4 606.7,446.9 604.7,446.4 602.7,445.9 600.7,445.4 598.7,444.9 596.7,444.4 594.7,443.9" fill="url(#gb)"/>
<polyline points="1408.0,642.8 1406.7,642.5 1404.7,642.0 1402.7,641.5 1400.7,641.0 1398.7,640.5 1396.7,640.0 1394.7,639.5 1392.7,639.0 1390.7,638.6 1388.7,638.1 1386.7,637.6 1384.7,637.1 1382.7,636.6 1380.7,636.1 1378.7,635.6 1376.7,635.1 1374.7,634.6 1372.7,634.2 1370.7,633.7 1368.7,633.2 1366.7,632.7 1364.7,632.2 1362.7,631.7 1360.7,631.2 1358.7,630.7 1356.7,630.2 1354.7,629.8 1352.7,629.3 1350.7,628.8 1348.7,628.3 1346.7,627.8 1344.7,627.3 1342.7,626.8 1340.7,626.3 1338.7,625.8 1336.7,625.3 1334.7,624.9 1332.7,624.4 1330.7,623.9 1328.7,623.4 1326.7,622.9 1324.7,622.4 1322.7,621.9 1320.7,621.4 1318.7,620.9 1316.7,620.5 1314.7,620.0 1312.7,619.5 1310.7,619.0 1308.7,618.5 1306.7,618.0 1304.7,617.5 1302.7,617.0 1300.7,616.5 1298.7,616.1 1296.7,615.6 1294.7,615.1 1292.7,614.6 1290.7,614.1 1288.7,613.6 1286.7,613.1 1284.7,612.6 1282.7,612.1 1280.7,611.7 1278.7,611.2 1276.7,610.7 1274.7,610.2 1272.7,609.7 1270.7,609.2 1268.7,608.7 1266.7,608.2 1264.7,607.7 1262.7,607.3 1260.7,606.8 1258.7,606.3 1256.7,605.8 1254.7,605.3 1252.7,604.8 1250.7,604.3 1248.7,603.8 1246.7,603.3 1244.7,602.9 1242.7,602.4 1240.7,601.9 1238.7,601.4 1236.7,600.9 1234.7,600.4 1232.7,599.9 1230.7,599.4 1228.7,598.9 1226.7,598.5 1224.7,598.0 1222.7,597.5 1220.7,597.0 1218.7,596.5 1216.7,596.0 1214.7,595.5 1212.7,595.0 1210.7,594.5 1208.7,594.1 1206.7,593.6 1204.7,593.1 1202.7,592.6 1200.7,592.1 1198.7,591.6 1196.7,591.1 1194.7,590.6 1192.7,590.1 1190.7,589.7 1188.7,589.2 1186.7,588.7 1184.7,588.2 1182.7,587.7 1180.7,587.2 1178.7,586.7 1176.7,586.2 1174.7,585.7 1172.7,585.3 1170.7,584.8 1168.7,584.3 1166.7,583.8 1164.7,583.3 1162.7,582.8 1160.7,582.3 1158.7,581.8 1156.7,581.3 1154.7,580.9 1152.7,580.4 1150.7,579.9 1148.7,579.4 1146.7,578.9 1144.7,578.4 1142.7,577.9 1140.7,577.4 1138.7,576.9 1136.7,576.5 1134.7,576.0 1132.7,575.5 1130.7,575.0 1128.7,574.5 1126.7,574.0 1124.7,573.5 1122.7,573.0 1120.7,572.5 1118.7,572.1 1116.7,571.6 1114.7,571.1 1112.7,570.6 1110.7,570.1 1108.7,569.6 1106.7,569.1 1104.7,568.6 1102.7,568.1 1100.7,567.6 1098.7,567.2 1096.7,566.7 1094.7,566.2 1092.7,565.7 1090.7,565.2 1088.7,564.7 1086.7,564.2 1084.7,563.7 1082.7,563.2 1080.7,562.8 1078.7,562.3 1076.7,561.8 1074.7,561.3 1072.7,560.8 1070.7,560.3 1068.7,559.8 1066.7,559.3 1064.7,558.8 1062.7,558.4 1060.7,557.9 1058.7,557.4 1056.7,556.9 1054.7,556.4 1052.7,555.9 1050.7,555.4 1048.7,554.9 1046.7,554.4 1044.7,554.0 1042.7,553.5 1040.7,553.0 1038.7,552.5 1036.7,552.0 1034.7,551.5 1032.7,551.0 1030.7,550.5 1028.7,550.0 1026.7,549.6 1024.7,549.1 1022.7,548.6 1020.7,548.1 1018.7,547.6 1016.7,547.1 1014.7,546.6 1012.7,546.1 1010.7,545.6 1008.7,545.2 1006.7,544.7 1004.7,544.2 1002.7,543.7 1000.7,543.2 998.7,542.7 996.7,542.2 994.7,541.7 992.7,541.2 990.7,540.8 988.7,540.3 986.7,539.8 984.7,539.3 982.7,538.8 980.7,538.3 978.7,537.8 976.7,537.3 974.7,536.8 972.7,536.4 970.7,535.9 968.7,535.4 966.7,534.9 964.7,534.4 962.7,533.9 960.7,533.4 958.7,532.9 956.7,532.4 954.7,532.0 952.7,531.5 950.7,531.0 948.7,530.5 946.7,530.0 944.7,529.5 942.7,529.0 940.7,528.5 938.7,528.0 936.7,527.6 934.7,527.1 932.7,526.6 930.7,526.1 928.7,525.6 926.7,525.1 924.7,524.6 922.7,524.1 920.7,523.6 918.7,523.2 916.7,522.7 914.7,522.2 912.7,521.7 910.7,521.2 908.7,520.7 906.7,520.2 904.7,519.7 902.7,519.2 900.7,518.8 898.7,518.3 896.7,517.8 894.7,517.3 892.7,516.8 890.7,516.3 888.7,515.8 886.7,515.3 884.7,514.8 882.7,514.3 880.7,513.9 878.7,513.4 876.7,512.9 874.7,512.4 872.7,511.9 870.7,511.4 868.7,510.9 866.7,510.4 864.7,509.9 862.7,509.5 860.7,509.0 858.7,508.5 856.7,508.0 854.7,507.5 852.7,507.0 850.7,506.5 848.7,506.0 846.7,505.5 844.7,505.1 842.7,504.6 840.7,504.1 838.7,503.6 836.7,503.1 834.7,502.6 832.7,502.1 830.7,501.6 828.7,501.1 826.7,500.7 824.7,500.2 822.7,499.7 820.7,499.2 818.7,498.7 816.7,498.2 814.7,497.7 812.7,497.2 810.7,496.7 808.7,496.3 806.7,495.8 804.7,495.3 802.7,494.8 800.7,494.3 798.7,493.8 796.7,493.3 794.7,492.8 792.7,492.3 790.7,491.9 788.7,491.4 786.7,490.9 784.7,490.4 782.7,489.9 780.7,489.4 778.7,488.9 776.7,488.4 774.7,487.9 772.7,487.5 770.7,487.0 768.7,486.5 766.7,486.0 764.7,485.5 762.7,485.0 760.7,484.5 758.7,484.0 756.7,483.5 754.7,483.1 752.7,482.6 750.7,482.1 748.7,481.6 746.7,481.1 744.7,480.6 742.7,480.1 740.7,479.6 738.7,479.1 736.7,478.7 734.7,478.2 732.7,477.7 730.7,477.2 728.7,476.7 726.7,476.2 724.7,475.7 722.7,475.2 720.7,474.7 718.7,474.3 716.7,473.8 714.7,473.3 712.7,472.8 710.7,472.3 708.7,471.8 706.7,471.3 704.7,470.8 702.7,470.3 700.7,469.9 698.7,469.4 696.7,468.9 694.7,468.4 692.7,467.9 690.7,467.4 688.7,466.9 686.7,466.4 684.7,465.9 682.7,465.5 680.7,465.0 678.7,464.5 676.7,464.0 674.7,463.5 672.7,463.0 670.7,462.5 668.7,462.0 666.7,461.5 664.7,461.1 662.7,460.6 660.7,460.1 658.7,459.6 656.7,459.1 654.7,458.6 652.7,458.1 650.7,457.6 648.7,457.1 646.7,456.6 644.7,456.2 642.7,455.7 640.7,455.2 638.7,454.7 636.7,454.2 634.7,453.7 632.7,453.2 630.7,452.7 628.7,452.2 626.7,451.8 624.7,451.3 622.7,450.8 620.7,450.3 618.7,449.8 616.7,449.3 614.7,448.8 612.7,448.3 610.7,447.8 608.7,447.4 606.7,446.9 604.7,446.4 602.7,445.9 600.7,445.4 598.7,444.9 596.7,444.4 594.7,443.9" fill="none" stroke="#272058" stroke-width="1.8"/>
<polygon points="334.5,393.2 336.5,393.6 338.5,394.1 340.5,394.6 342.5,395.1 344.5,395.7 346.5,396.3 348.5,396.9 350.5,397.6 352.5,398.4 354.5,399.2 356.5,400.1 358.5,401.0 360.5,401.8 362.5,402.6 364.5,403.4 366.5,404.1 368.5,404.7 370.5,405.3 372.5,405.9 374.5,406.5 376.5,407.1 378.5,407.9 380.5,408.7 382.5,409.6 384.5,410.7 386.5,412.0 388.5,413.4 390.5,415.0 392.5,416.8 394.5,418.9 396.5,421.4 398.5,424.3 400.5,427.4 402.5,430.6 404.5,434.0 406.5,437.8 408.5,441.9 410.5,446.2 412.5,450.7 414.5,455.2 416.5,459.9 418.5,464.9 420.5,470.0 422.5,475.2 424.5,480.4 426.5,485.3 428.5,490.2 430.5,495.1 432.5,499.9 434.5,504.6 436.5,509.3 438.5,514.0 440.5,518.4 442.5,522.5 444.5,526.3 446.5,530.0 448.5,533.4 450.5,536.7 452.5,539.9 454.5,542.8 456.5,545.6 458.5,548.2 460.5,550.8 462.5,553.2 464.5,555.6 466.5,558.0 468.5,560.2 470.5,562.3 472.5,564.5 474.5,566.8 476.5,569.4 478.5,572.8 480.5,572.3 482.5,566.4 484.5,561.1 486.5,555.8 488.5,551.1 490.5,546.7 492.5,542.6 494.5,538.4 496.5,534.1 498.5,529.2 500.5,524.1 502.5,518.8 504.5,513.6 506.5,508.9 508.5,504.6 510.5,500.6 512.5,496.9 514.5,493.5 516.5,490.7 518.5,488.1 520.5,485.8 522.5,483.7 524.5,481.9 526.5,480.2 528.5,478.7 530.5,477.3 532.5,475.9 534.5,474.5 536.5,473.2 538.5,472.0 540.5,470.7 542.5,469.5 544.5,468.3 546.5,467.0 548.5,465.8 550.5,464.5 552.5,463.3 554.5,462.0 556.5,460.8 558.5,459.5 560.5,458.2 562.5,456.9 564.5,455.7 566.5,454.5 568.5,453.4 570.5,452.3 572.5,451.3 574.5,450.3 576.5,449.5 578.5,448.9 580.5,448.3 582.5,447.8 584.5,447.3 586.5,446.9 588.5,446.5 590.5,446.2 592.5,446.5 594.5,447.5 596.5,449.1 598.5,450.9 600.5,454.0 602.5,458.0 604.5,461.6 606.5,464.9 608.5,468.2 610.5,471.6 612.5,475.2 614.5,479.1 616.5,483.2 618.5,487.2 620.5,490.9 622.5,494.4 624.5,497.8 626.5,501.0 628.5,504.1 630.5,507.2 632.5,510.2 634.5,513.0 636.5,515.6 638.5,517.9 640.5,519.9 642.5,521.8 644.5,523.7 646.5,525.7 648.5,527.7 650.5,529.9 652.5,532.0 654.5,534.3 656.5,536.8 658.5,539.5 660.5,542.4 662.5,545.8 664.5,549.9 666.5,555.3 668.5,561.5 670.5,567.3 672.5,572.3 674.5,577.1 676.5,581.9 678.5,587.0 680.5,592.5 682.5,598.2 684.5,604.0 686.5,609.8 688.5,617.0 690.5,624.0 692.5,626.8 694.5,624.7 696.5,622.0 698.5,618.5 700.5,614.7 702.5,610.7 704.5,606.5 706.5,601.8 708.5,597.3 710.5,593.3 712.5,589.9 714.5,586.7 716.5,583.8 718.5,581.3 720.5,579.2 722.5,577.5 724.5,576.0 726.5,574.7 728.5,573.3 730.5,571.8 732.5,570.2 734.5,568.6 736.5,566.8 738.5,565.0 740.5,563.1 742.5,561.1 744.5,559.0 746.5,556.7 748.5,554.2 750.5,551.5 752.5,548.4 754.5,544.9 756.5,541.3 758.5,537.6 760.5,533.6 762.5,529.4 764.5,525.4 766.5,521.7 768.5,518.0 770.5,514.4 772.5,511.4 774.5,508.9 776.5,506.8 778.5,504.9 780.5,503.3 782.5,502.2 784.5,501.2 786.5,500.4 788.5,499.7 790.5,499.4 792.5,499.4 794.5,499.6 796.5,499.9 798.5,500.3 800.5,500.8 802.5,501.6 804.5,503.0 806.5,504.7 808.5,506.3 810.5,507.9 812.5,509.6 814.5,511.3 816.5,513.0 818.5,514.5 820.5,516.1 822.5,517.6 824.5,519.0 826.5,520.5 828.5,521.8 830.5,523.0 832.5,524.3 834.5,525.5 836.5,526.7 838.5,528.0 840.5,529.3 842.5,530.6 844.5,532.0 846.5,533.7 848.5,535.6 850.5,537.9 852.5,540.6 854.5,543.3 856.5,546.3 858.5,549.6 860.5,553.1 862.5,556.8 864.5,560.7 866.5,564.9 868.5,569.3 870.5,574.0 872.5,578.9 874.5,584.1 876.5,589.7 878.5,595.5 880.5,601.3 882.5,607.0 884.5,612.7 886.5,618.1 888.5,623.3 890.5,628.3 892.5,632.9 894.5,637.1 896.5,641.0 898.5,644.6 900.5,647.7 902.5,650.4 904.5,652.8 906.5,655.0 908.5,657.1 910.5,659.1 912.5,661.1 914.5,662.9 916.5,664.8 918.5,666.5 920.5,668.2 922.5,669.8 924.5,671.3 926.5,672.8 928.5,674.3 930.5,676.0 932.5,678.3 934.5,680.2 936.5,674.6 938.5,664.7 940.5,660.4 942.5,657.3 944.5,654.5 946.5,650.8 948.5,645.5 950.5,639.2 952.5,632.7 954.5,626.7 956.5,621.6 958.5,616.9 960.5,612.4 962.5,608.1 964.5,604.0 966.5,600.1 968.5,596.4 970.5,593.2 972.5,590.5 974.5,587.9 976.5,585.7 978.5,583.8 980.5,582.1 982.5,580.6 984.5,579.3 986.5,578.2 988.5,577.3 990.5,576.5 992.5,575.8 994.5,575.2 996.5,574.5 998.5,573.7 1000.5,573.0 1002.5,572.2 1004.5,571.5 1006.5,570.7 1008.5,570.0 1010.5,569.3 1012.5,568.6 1014.5,567.8 1016.5,567.1 1018.5,566.3 1020.5,565.4 1022.5,564.3 1024.5,563.3 1026.5,562.2 1028.5,561.2 1030.5,560.3 1032.5,559.4 1034.5,558.6 1036.5,557.8 1038.5,557.2 1040.5,556.7 1042.5,556.2 1044.5,556.2 1046.5,557.1 1048.5,558.6 1050.5,560.3 1052.5,562.2 1054.5,564.7 1056.5,567.5 1058.5,570.6 1060.5,573.9 1062.5,577.4 1064.5,581.3 1066.5,585.1 1068.5,589.0 1070.5,593.1 1072.5,597.2 1074.5,601.2 1076.5,605.1 1078.5,608.9 1080.5,612.7 1082.5,616.1 1084.5,619.2 1086.5,622.0 1088.5,624.6 1090.5,627.3 1092.5,629.9 1094.5,632.8 1096.5,635.7 1098.5,638.7 1100.5,641.8 1102.5,644.8 1104.5,647.7 1106.5,650.6 1108.5,653.4 1110.5,656.1 1112.5,659.0 1114.5,662.1 1116.5,665.2 1118.5,668.5 1120.5,672.0 1122.5,675.8 1124.5,680.0 1126.5,684.9 1128.5,690.1 1130.5,695.4 1132.5,700.8 1134.5,706.4 1136.5,712.1 1138.5,717.8 1140.5,723.5 1142.5,729.2 1144.5,734.9 1145.6,738.0 1139.1,739.8 1138.0,739.4 1136.0,738.7 1134.0,738.0 1132.0,737.3 1130.0,736.6 1128.0,736.0 1126.0,735.3 1124.0,734.6 1122.0,733.9 1120.0,733.2 1118.0,732.6 1116.0,731.9 1114.0,731.3 1112.0,730.7 1110.0,730.1 1108.0,729.5 1106.0,728.9 1104.0,728.3 1102.0,727.7 1100.0,727.1 1098.0,726.6 1096.0,726.0 1094.0,725.4 1092.0,724.8 1090.0,724.2 1088.0,723.6 1086.0,723.0 1084.0,722.5 1082.0,721.9 1080.0,721.3 1078.0,720.7 1076.0,720.1 1074.0,719.5 1072.0,718.9 1070.0,718.3 1068.0,717.7 1066.0,717.0 1064.0,716.4 1062.0,715.8 1060.0,715.1 1058.0,714.5 1056.0,713.9 1054.0,713.3 1052.0,712.7 1050.0,712.1 1048.0,711.5 1046.0,710.9 1044.0,710.4 1042.0,709.9 1040.0,709.3 1038.0,708.8 1036.0,708.4 1034.0,707.9 1032.0,707.5 1030.0,707.0 1028.0,706.6 1026.0,706.1 1024.0,705.7 1022.0,705.3 1020.0,704.8 1018.0,704.4 1016.0,704.0 1014.0,703.6 1012.0,703.1 1010.0,702.7 1008.0,702.2 1006.0,701.8 1004.0,701.4 1002.0,700.9 1000.0,700.5 998.0,700.0 996.0,699.6 994.0,699.2 992.0,698.7 990.0,698.3 988.0,697.8 986.0,697.4 984.0,697.0 982.0,696.5 980.0,696.1 978.0,695.7 976.0,695.2 974.0,694.8 972.0,694.4 970.0,694.0 968.0,693.7 966.0,693.3 964.0,692.9 962.0,692.6 960.0,692.3 958.0,692.0 956.0,691.6 954.0,691.3 952.0,691.1 950.0,690.8 948.0,690.5 946.0,690.3 944.0,690.1 942.0,689.9 940.0,689.6 938.0,689.3 936.0,688.9 934.0,688.6 932.0,688.3 930.0,688.2 928.0,688.0 926.0,687.4 924.0,686.9 922.0,686.3 920.0,685.8 918.0,685.3 916.0,684.7 914.0,684.2 912.0,683.7 910.0,683.1 908.0,682.6 906.0,682.0 904.0,681.5 902.0,680.9 900.0,680.4 898.0,679.8 896.0,679.3 894.0,678.7 892.0,678.1 890.0,677.5 888.0,676.8 886.0,676.2 884.0,675.6 882.0,674.9 880.0,674.2 878.0,673.5 876.0,672.8 874.0,672.1 872.0,671.4 870.0,670.7 868.0,670.0 866.0,669.4 864.0,668.7 862.0,668.0 860.0,667.4 858.0,666.8 856.0,666.1 854.0,665.5 852.0,664.9 850.0,664.3 848.0,663.7 846.0,663.1 844.0,662.6 842.0,662.0 840.0,661.4 838.0,660.9 836.0,660.4 834.0,659.9 832.0,659.3 830.0,658.8 828.0,658.3 826.0,657.8 824.0,657.3 822.0,656.7 820.0,656.2 818.0,655.7 816.0,655.2 814.0,654.6 812.0,654.1 810.0,653.6 808.0,653.0 806.0,652.5 804.0,652.0 802.0,651.4 800.0,650.9 798.0,650.4 796.0,649.8 794.0,649.3 792.0,648.8 790.0,648.4 788.0,647.9 786.0,647.4 784.0,646.9 782.0,646.5 780.0,646.0 778.0,645.6 776.0,645.2 774.0,644.7 772.0,644.3 770.0,643.9 768.0,643.6 766.0,643.2 764.0,642.8 762.0,642.5 760.0,642.2 758.0,641.9 756.0,641.6 754.0,641.3 752.0,640.9 750.0,640.6 748.0,640.3 746.0,640.0 744.0,639.6 742.0,639.3 740.0,638.9 738.0,638.5 736.0,638.1 734.0,637.7 732.0,637.4 730.0,637.0 728.0,636.6 726.0,636.1 724.0,635.7 722.0,635.3 720.0,634.9 718.0,634.5 716.0,634.1 714.0,633.7 712.0,633.3 710.0,632.9 708.0,632.6 706.0,632.2 704.0,631.9 702.0,631.6 700.0,631.3 698.0,631.0 696.0,630.7 694.0,630.4 692.0,630.1 690.0,629.8 688.0,629.4 686.0,629.0 684.0,628.4 682.0,627.7 680.0,626.9 678.0,626.2 676.0,625.5 674.0,624.8 672.0,624.1 670.0,623.5 668.0,622.8 666.0,622.2 664.0,621.5 662.0,620.8 660.0,620.1 658.0,619.4 656.0,618.7 654.0,618.1 652.0,617.6 650.0,617.0 648.0,616.4 646.0,615.8 644.0,615.3 642.0,614.7 640.0,614.2 638.0,613.6 636.0,613.1 634.0,612.5 632.0,612.0 630.0,611.4 628.0,610.9 626.0,610.3 624.0,609.7 622.0,609.1 620.0,608.5 618.0,607.9 616.0,607.3 614.0,606.7 612.0,606.1 610.0,605.4 608.0,604.8 606.0,604.2 604.0,603.6 602.0,603.0 600.0,602.4 598.0,601.8 596.0,601.1 594.0,600.5 592.0,599.9 590.0,599.4 588.0,598.9 586.0,598.3 584.0,597.9 582.0,597.4 580.0,596.9 578.0,596.5 576.0,596.0 574.0,595.6 572.0,595.2 570.0,594.7 568.0,594.3 566.0,593.8 564.0,593.4 562.0,593.0 560.0,592.6 558.0,592.1 556.0,591.7 554.0,591.3 552.0,590.9 550.0,590.5 548.0,590.0 546.0,589.6 544.0,589.2 542.0,588.8 540.0,588.4 538.0,587.9 536.0,587.5 534.0,587.1 532.0,586.7 530.0,586.3 528.0,585.8 526.0,585.4 524.0,585.0 522.0,584.6 520.0,584.2 518.0,583.8 516.0,583.4 514.0,583.0 512.0,582.6 510.0,582.3 508.0,581.9 506.0,581.6 504.0,581.3 502.0,580.9 500.0,580.7 498.0,580.4 496.0,580.1 494.0,579.9 492.0,579.6 490.0,579.3 488.0,579.0 486.0,578.7 484.0,578.4 482.0,578.1 480.0,577.8 478.0,577.6 476.0,577.3 474.0,577.1 472.0,576.6 470.0,576.0 468.0,575.5 466.0,574.9 464.0,574.3 462.0,573.8 460.0,573.2 458.0,572.7 456.0,572.1 454.0,571.5 452.0,571.0 450.0,570.4 448.0,569.8 446.0,569.2 444.0,568.6 442.0,568.0 440.0,567.4 438.0,566.8 436.0,566.2 434.0,565.5 432.0,564.9 430.0,564.2 428.0,563.6 426.0,562.9 424.0,562.3 422.0,561.6 420.0,560.9 418.0,560.3 416.0,559.6 414.0,558.9 412.0,558.2 410.0,557.6 408.0,556.9 406.0,556.3 404.0,555.6 402.0,555.0 400.0,554.3 398.0,553.7 396.0,553.1 394.0,552.5 392.0,551.9 390.0,551.3 388.0,550.8 386.0,550.2 384.0,549.7 382.0,549.1 380.0,548.6 378.0,548.1 376.0,547.6 374.0,547.1 372.0,546.6 370.0,546.1 368.0,545.6 366.0,545.1 364.0,544.6 362.0,544.1 360.0,543.6 358.0,543.1 356.0,542.6 354.0,542.1 352.0,541.6 350.0,541.1 348.0,540.6 346.0,540.1 344.0,539.6 342.0,539.1 340.0,538.6 338.0,538.1 336.0,537.6 334.0,537.1 332.0,536.6 330.0,536.1 328.0,535.7" fill="url(#gf)"/>
<polyline points="1139.1,739.8 1138.0,739.4 1136.0,738.7 1134.0,738.0 1132.0,737.3 1130.0,736.6 1128.0,736.0 1126.0,735.3 1124.0,734.6 1122.0,733.9 1120.0,733.2 1118.0,732.6 1116.0,731.9 1114.0,731.3 1112.0,730.7 1110.0,730.1 1108.0,729.5 1106.0,728.9 1104.0,728.3 1102.0,727.7 1100.0,727.1 1098.0,726.6 1096.0,726.0 1094.0,725.4 1092.0,724.8 1090.0,724.2 1088.0,723.6 1086.0,723.0 1084.0,722.5 1082.0,721.9 1080.0,721.3 1078.0,720.7 1076.0,720.1 1074.0,719.5 1072.0,718.9 1070.0,718.3 1068.0,717.7 1066.0,717.0 1064.0,716.4 1062.0,715.8 1060.0,715.1 1058.0,714.5 1056.0,713.9 1054.0,713.3 1052.0,712.7 1050.0,712.1 1048.0,711.5 1046.0,710.9 1044.0,710.4 1042.0,709.9 1040.0,709.3 1038.0,708.8 1036.0,708.4 1034.0,707.9 1032.0,707.5 1030.0,707.0 1028.0,706.6 1026.0,706.1 1024.0,705.7 1022.0,705.3 1020.0,704.8 1018.0,704.4 1016.0,704.0 1014.0,703.6 1012.0,703.1 1010.0,702.7 1008.0,702.2 1006.0,701.8 1004.0,701.4 1002.0,700.9 1000.0,700.5 998.0,700.0 996.0,699.6 994.0,699.2 992.0,698.7 990.0,698.3 988.0,697.8 986.0,697.4 984.0,697.0 982.0,696.5 980.0,696.1 978.0,695.7 976.0,695.2 974.0,694.8 972.0,694.4 970.0,694.0 968.0,693.7 966.0,693.3 964.0,692.9 962.0,692.6 960.0,692.3 958.0,692.0 956.0,691.6 954.0,691.3 952.0,691.1 950.0,690.8 948.0,690.5 946.0,690.3 944.0,690.1 942.0,689.9 940.0,689.6 938.0,689.3 936.0,688.9 934.0,688.6 932.0,688.3 930.0,688.2 928.0,688.0 926.0,687.4 924.0,686.9 922.0,686.3 920.0,685.8 918.0,685.3 916.0,684.7 914.0,684.2 912.0,683.7 910.0,683.1 908.0,682.6 906.0,682.0 904.0,681.5 902.0,680.9 900.0,680.4 898.0,679.8 896.0,679.3 894.0,678.7 892.0,678.1 890.0,677.5 888.0,676.8 886.0,676.2 884.0,675.6 882.0,674.9 880.0,674.2 878.0,673.5 876.0,672.8 874.0,672.1 872.0,671.4 870.0,670.7 868.0,670.0 866.0,669.4 864.0,668.7 862.0,668.0 860.0,667.4 858.0,666.8 856.0,666.1 854.0,665.5 852.0,664.9 850.0,664.3 848.0,663.7 846.0,663.1 844.0,662.6 842.0,662.0 840.0,661.4 838.0,660.9 836.0,660.4 834.0,659.9 832.0,659.3 830.0,658.8 828.0,658.3 826.0,657.8 824.0,657.3 822.0,656.7 820.0,656.2 818.0,655.7 816.0,655.2 814.0,654.6 812.0,654.1 810.0,653.6 808.0,653.0 806.0,652.5 804.0,652.0 802.0,651.4 800.0,650.9 798.0,650.4 796.0,649.8 794.0,649.3 792.0,648.8 790.0,648.4 788.0,647.9 786.0,647.4 784.0,646.9 782.0,646.5 780.0,646.0 778.0,645.6 776.0,645.2 774.0,644.7 772.0,644.3 770.0,643.9 768.0,643.6 766.0,643.2 764.0,642.8 762.0,642.5 760.0,642.2 758.0,641.9 756.0,641.6 754.0,641.3 752.0,640.9 750.0,640.6 748.0,640.3 746.0,640.0 744.0,639.6 742.0,639.3 740.0,638.9 738.0,638.5 736.0,638.1 734.0,637.7 732.0,637.4 730.0,637.0 728.0,636.6 726.0,636.1 724.0,635.7 722.0,635.3 720.0,634.9 718.0,634.5 716.0,634.1 714.0,633.7 712.0,633.3 710.0,632.9 708.0,632.6 706.0,632.2 704.0,631.9 702.0,631.6 700.0,631.3 698.0,631.0 696.0,630.7 694.0,630.4 692.0,630.1 690.0,629.8 688.0,629.4 686.0,629.0 684.0,628.4 682.0,627.7 680.0,626.9 678.0,626.2 676.0,625.5 674.0,624.8 672.0,624.1 670.0,623.5 668.0,622.8 666.0,622.2 664.0,621.5 662.0,620.8 660.0,620.1 658.0,619.4 656.0,618.7 654.0,618.1 652.0,617.6 650.0,617.0 648.0,616.4 646.0,615.8 644.0,615.3 642.0,614.7 640.0,614.2 638.0,613.6 636.0,613.1 634.0,612.5 632.0,612.0 630.0,611.4 628.0,610.9 626.0,610.3 624.0,609.7 622.0,609.1 620.0,608.5 618.0,607.9 616.0,607.3 614.0,606.7 612.0,606.1 610.0,605.4 608.0,604.8 606.0,604.2 604.0,603.6 602.0,603.0 600.0,602.4 598.0,601.8 596.0,601.1 594.0,600.5 592.0,599.9 590.0,599.4 588.0,598.9 586.0,598.3 584.0,597.9 582.0,597.4 580.0,596.9 578.0,596.5 576.0,596.0 574.0,595.6 572.0,595.2 570.0,594.7 568.0,594.3 566.0,593.8 564.0,593.4 562.0,593.0 560.0,592.6 558.0,592.1 556.0,591.7 554.0,591.3 552.0,590.9 550.0,590.5 548.0,590.0 546.0,589.6 544.0,589.2 542.0,588.8 540.0,588.4 538.0,587.9 536.0,587.5 534.0,587.1 532.0,586.7 530.0,586.3 528.0,585.8 526.0,585.4 524.0,585.0 522.0,584.6 520.0,584.2 518.0,583.8 516.0,583.4 514.0,583.0 512.0,582.6 510.0,582.3 508.0,581.9 506.0,581.6 504.0,581.3 502.0,580.9 500.0,580.7 498.0,580.4 496.0,580.1 494.0,579.9 492.0,579.6 490.0,579.3 488.0,579.0 486.0,578.7 484.0,578.4 482.0,578.1 480.0,577.8 478.0,577.6 476.0,577.3 474.0,577.1 472.0,576.6 470.0,576.0 468.0,575.5 466.0,574.9 464.0,574.3 462.0,573.8 460.0,573.2 458.0,572.7 456.0,572.1 454.0,571.5 452.0,571.0 450.0,570.4 448.0,569.8 446.0,569.2 444.0,568.6 442.0,568.0 440.0,567.4 438.0,566.8 436.0,566.2 434.0,565.5 432.0,564.9 430.0,564.2 428.0,563.6 426.0,562.9 424.0,562.3 422.0,561.6 420.0,560.9 418.0,560.3 416.0,559.6 414.0,558.9 412.0,558.2 410.0,557.6 408.0,556.9 406.0,556.3 404.0,555.6 402.0,555.0 400.0,554.3 398.0,553.7 396.0,553.1 394.0,552.5 392.0,551.9 390.0,551.3 388.0,550.8 386.0,550.2 384.0,549.7 382.0,549.1 380.0,548.6 378.0,548.1 376.0,547.6 374.0,547.1 372.0,546.6 370.0,546.1 368.0,545.6 366.0,545.1 364.0,544.6 362.0,544.1 360.0,543.6 358.0,543.1 356.0,542.6 354.0,542.1 352.0,541.6 350.0,541.1 348.0,540.6 346.0,540.1 344.0,539.6 342.0,539.1 340.0,538.6 338.0,538.1 336.0,537.6 334.0,537.1 332.0,536.6 330.0,536.1 328.0,535.7" fill="none" stroke="#2a236a" stroke-width="1.3"/>
<g font-family="'Liberation Sans', Arial, sans-serif" fill="#383838"><text x="168.3" y="293.6" font-size="33" text-anchor="end" >60</text><text x="168.3" y="394.1" font-size="33" text-anchor="end" >40</text><text x="168.3" y="494.6" font-size="33" text-anchor="end" >20</text><text x="168.3" y="595.6" font-size="33" text-anchor="end" >0</text><text x="141.9" y="634.2" font-size="33" text-anchor="middle" >300</text><text x="277.6" y="667.8" font-size="33" text-anchor="middle" >250</text><text x="412.8" y="700.2" font-size="33" text-anchor="middle" >200</text><text x="549.6" y="733.1" font-size="33" text-anchor="middle" >150</text><text x="685.3" y="765.8" font-size="33" text-anchor="middle" >100</text><text x="829.8" y="799.1" font-size="33" text-anchor="middle" >50</text><text x="974.9" y="833.3" font-size="33" text-anchor="middle" >0</text><text x="1721.0" y="587.7" font-size="33" text-anchor="middle" >0</text><text x="1600.5" y="637.0" font-size="33" text-anchor="middle" >0.1</text><text x="1467.7" y="685.5" font-size="33" text-anchor="middle" >0.2</text><text x="1334.3" y="732.8" font-size="33" text-anchor="middle" >0.3</text><text x="1202.0" y="781.5" font-size="33" text-anchor="middle" >0.4</text><text x="1068.7" y="829.2" font-size="33" text-anchor="middle" >0.5</text><text x="599.3" y="839.2" font-size="36.5" text-anchor="middle" >distance, m</text><text x="1402.0" y="828.4" font-size="36.5" text-anchor="middle" >frequency, Hz</text><text transform="translate(74,443) rotate(-90)" font-size="35" text-anchor="middle">spectra, m<tspan dy="-18.5" font-size="26">2</tspan><tspan dy="18.5" font-size="35">s</tspan><tspan dy="-18.5" font-size="26">-1</tspan></text></g></g>
<g id="plot-b"><g fill="none" stroke="#e9e9e9" stroke-width="1.4"><line x1="255.6" y1="1734.7" x2="416.9" y2="1373.9"/><line x1="255.6" y1="1632.3" x2="416.9" y2="1271.5"/><line x1="255.6" y1="1530.0" x2="416.9" y2="1169.2"/><line x1="255.6" y1="1427.6" x2="416.9" y2="1066.8"/><line x1="416.9" y1="1476.2" x2="255.6" y2="1837.0"/><line x1="526.1" y1="1480.6" x2="364.8" y2="1841.4"/><line x1="635.4" y1="1485.0" x2="474.1" y2="1845.8"/><line x1="744.6" y1="1489.4" x2="583.3" y2="1850.2"/><line x1="853.8" y1="1493.8" x2="692.5" y2="1854.6"/><line x1="963.0" y1="1498.2" x2="801.8" y2="1859.0"/><line x1="1072.3" y1="1502.5" x2="911.0" y2="1863.3"/><line x1="1181.5" y1="1506.9" x2="1020.2" y2="1867.7"/><line x1="1290.7" y1="1511.3" x2="1129.4" y2="1872.1"/><line x1="1400.0" y1="1515.7" x2="1238.7" y2="1876.5"/><line x1="1509.2" y1="1520.1" x2="1347.9" y2="1880.9"/></g>
<g fill="none" stroke="#e0e0e0" stroke-width="1.4"><line x1="416.9" y1="1373.9" x2="1621.2" y2="1422.3"/><line x1="416.9" y1="1271.5" x2="1621.2" y2="1319.9"/><line x1="416.9" y1="1169.2" x2="1621.2" y2="1217.6"/><line x1="416.9" y1="1066.8" x2="1621.2" y2="1115.2"/><line x1="376.6" y1="1566.4" x2="1580.8" y2="1614.8"/><line x1="336.2" y1="1656.6" x2="1540.5" y2="1705.0"/><line x1="295.9" y1="1746.8" x2="1500.2" y2="1795.2"/></g>
<g fill="none" stroke="#cbcbcb" stroke-width="1.1"><line x1="416.9" y1="1476.2" x2="416.9" y2="1066.8"/><line x1="526.1" y1="1480.6" x2="526.1" y2="1071.2"/><line x1="635.4" y1="1485.0" x2="635.4" y2="1075.6"/><line x1="744.6" y1="1489.4" x2="744.6" y2="1080.0"/><line x1="853.8" y1="1493.8" x2="853.8" y2="1084.4"/><line x1="963.0" y1="1498.2" x2="963.0" y2="1088.8"/><line x1="1072.3" y1="1502.5" x2="1072.3" y2="1093.2"/><line x1="1181.5" y1="1506.9" x2="1181.5" y2="1097.6"/><line x1="1290.7" y1="1511.3" x2="1290.7" y2="1102.0"/><line x1="1400.0" y1="1515.7" x2="1400.0" y2="1106.3"/><line x1="1509.2" y1="1520.1" x2="1509.2" y2="1110.7"/><line x1="376.6" y1="1566.4" x2="376.6" y2="1157.0"/><line x1="336.2" y1="1656.6" x2="336.2" y2="1247.2"/><line x1="295.9" y1="1746.8" x2="295.9" y2="1337.4"/></g>
<g fill="none" stroke="#505050" stroke-width="1.4"><line x1="255.6" y1="1837.0" x2="255.6" y2="1427.6"/><line x1="255.6" y1="1837.0" x2="1459.9" y2="1885.4"/><line x1="1459.9" y1="1885.4" x2="1621.2" y2="1524.6"/><line x1="255.6" y1="1837.0" x2="225.6" y2="1835.8"/><line x1="255.6" y1="1734.7" x2="225.6" y2="1733.5"/><line x1="255.6" y1="1632.3" x2="225.6" y2="1631.1"/><line x1="255.6" y1="1530.0" x2="225.6" y2="1528.8"/><line x1="255.6" y1="1427.6" x2="225.6" y2="1426.4"/><line x1="255.6" y1="1837.0" x2="243.4" y2="1864.4"/><line x1="364.8" y1="1841.4" x2="352.6" y2="1868.8"/><line x1="474.1" y1="1845.8" x2="461.8" y2="1873.2"/><line x1="583.3" y1="1850.2" x2="571.0" y2="1877.6"/><line x1="692.5" y1="1854.6" x2="680.3" y2="1881.9"/><line x1="801.8" y1="1859.0" x2="789.5" y2="1886.3"/><line x1="911.0" y1="1863.3" x2="898.7" y2="1890.7"/><line x1="1020.2" y1="1867.7" x2="1008.0" y2="1895.1"/><line x1="1129.4" y1="1872.1" x2="1117.2" y2="1899.5"/><line x1="1238.7" y1="1876.5" x2="1226.4" y2="1903.9"/><line x1="1347.9" y1="1880.9" x2="1335.7" y2="1908.3"/><line x1="1621.2" y1="1524.6" x2="1651.1" y2="1525.8"/><line x1="1580.8" y1="1614.8" x2="1610.8" y2="1616.0"/><line x1="1540.5" y1="1705.0" x2="1570.5" y2="1706.2"/><line x1="1500.2" y1="1795.2" x2="1530.2" y2="1796.4"/><line x1="1459.9" y1="1885.4" x2="1489.8" y2="1886.6"/></g>
<g stroke-width="0.8" stroke-linejoin="round"><polygon points="255.6,1837.0 675.0,1853.9 836.3,1493.1 416.9,1476.2" fill="#352a87" stroke="#352a87"/><polygon points="675.0,1853.9 677.2,1853.9 838.5,1493.1 836.3,1493.1" fill="#352a87" stroke="#352a87"/><polygon points="677.2,1853.9 679.4,1854.0 840.7,1493.2 838.5,1493.1" fill="#352a87" stroke="#352a87"/><polygon points="679.4,1854.0 681.6,1854.0 842.9,1493.2 840.7,1493.2" fill="#352a87" stroke="#352a87"/><polygon points="681.6,1854.0 683.8,1854.0 845.1,1493.2 842.9,1493.2" fill="#352a87" stroke="#352a87"/><polygon points="683.8,1854.0 686.0,1853.9 847.3,1493.1 845.1,1493.2" fill="#352a87" stroke="#352a87"/><polygon points="686.0,1853.9 688.2,1853.7 849.5,1492.9 847.3,1493.1" fill="#352a87" stroke="#352a87"/><polygon points="688.2,1853.7 690.3,1853.2 851.6,1492.4 849.5,1492.9" fill="#352a87" stroke="#352a87"/><polygon points="690.3,1853.2 692.5,1852.2 853.8,1491.4 851.6,1492.4" fill="#352a87" stroke="#352a87"/><polygon points="692.5,1852.2 694.7,1850.3 856.0,1489.5 853.8,1491.4" fill="#352a87" stroke="#352a87"/><polygon points="694.7,1850.3 696.9,1845.1 858.2,1484.3 856.0,1489.5" fill="#352a87" stroke="#352a87"/><polygon points="696.9,1845.1 699.1,1837.1 860.4,1476.3 858.2,1484.3" fill="#363093" stroke="#363093"/><polygon points="699.1,1837.1 701.3,1827.5 862.6,1466.7 860.4,1476.3" fill="#353dad" stroke="#353dad"/><polygon points="701.3,1827.5 703.4,1817.6 864.7,1456.8 862.6,1466.7" fill="#2c4ac7" stroke="#2c4ac7"/><polygon points="703.4,1817.6 705.6,1807.4 866.9,1446.6 864.7,1456.8" fill="#0f5cdd" stroke="#0f5cdd"/><polygon points="705.6,1807.4 707.8,1795.5 869.1,1434.7 866.9,1446.6" fill="#0268e1" stroke="#0268e1"/><polygon points="707.8,1795.5 710.0,1781.9 871.3,1421.1 869.1,1434.7" fill="#0d75dc" stroke="#0d75dc"/><polygon points="710.0,1781.9 712.2,1766.0 873.5,1405.2 871.3,1421.1" fill="#1481d6" stroke="#1481d6"/><polygon points="712.2,1766.0 714.4,1744.9 875.7,1384.1 873.5,1405.2" fill="#108ed2" stroke="#108ed2"/><polygon points="714.4,1744.9 716.6,1720.9 877.9,1360.1 875.7,1384.1" fill="#06a0cd" stroke="#06a0cd"/><polygon points="716.6,1720.9 718.7,1699.3 880.0,1338.5 877.9,1360.1" fill="#0faeb9" stroke="#0faeb9"/><polygon points="718.7,1699.3 720.9,1677.6 882.2,1316.8 880.0,1338.5" fill="#38b99e" stroke="#38b99e"/><polygon points="720.9,1677.6 723.1,1650.4 884.4,1289.6 882.2,1316.8" fill="#65be86" stroke="#65be86"/><polygon points="723.1,1650.4 725.3,1619.1 886.6,1258.3 884.4,1289.6" fill="#a5be6b" stroke="#a5be6b"/><polygon points="725.3,1619.1 727.5,1597.6 888.8,1236.8 886.6,1258.3" fill="#d9ba56" stroke="#d9ba56"/><polygon points="727.5,1597.6 729.7,1580.5 891.0,1219.7 888.8,1236.8" fill="#fdbe3d" stroke="#fdbe3d"/><polygon points="729.7,1580.5 731.8,1567.4 893.1,1206.9 891.0,1219.7" fill="#fcce2e" stroke="#fcce2e"/><polygon points="731.8,1567.4 734.0,1556.9 895.3,1196.9 893.1,1206.9" fill="#f5de21" stroke="#f5de21"/><polygon points="734.0,1556.9 736.2,1552.2 897.5,1190.5 895.3,1196.9" fill="#f5eb18" stroke="#f5eb18"/><polygon points="736.2,1552.2 738.4,1550.0 899.7,1185.9 897.5,1190.5" fill="#f6f313" stroke="#f6f313"/><polygon points="738.4,1550.0 740.6,1550.0 901.9,1184.9 899.7,1185.9" fill="#f9fb0e" stroke="#f9fb0e"/><polygon points="740.6,1550.0 742.8,1560.4 904.1,1192.2 901.9,1184.9" fill="#f9fb0e" stroke="#f9fb0e"/><polygon points="742.8,1560.4 745.0,1577.1 906.3,1203.8 904.1,1192.2" fill="#f9fb0e" stroke="#f9fb0e"/><polygon points="745.0,1577.1 747.1,1595.8 908.4,1219.2 906.3,1203.8" fill="#f5eb18" stroke="#f5eb18"/><polygon points="747.1,1595.8 749.3,1618.9 910.6,1239.2 908.4,1219.2" fill="#f7d826" stroke="#f7d826"/><polygon points="749.3,1618.9 751.5,1641.1 912.8,1259.9 910.6,1239.2" fill="#fec832" stroke="#fec832"/><polygon points="751.5,1641.1 753.7,1662.9 915.0,1282.3 912.8,1259.9" fill="#f1b94a" stroke="#f1b94a"/><polygon points="753.7,1662.9 755.9,1684.8 917.2,1304.7 915.0,1282.3" fill="#c8bc5d" stroke="#c8bc5d"/><polygon points="755.9,1684.8 758.1,1707.4 919.4,1326.5 917.2,1304.7" fill="#a5be6b" stroke="#a5be6b"/><polygon points="758.1,1707.4 760.2,1729.1 921.5,1348.3 919.4,1326.5" fill="#71bf80" stroke="#71bf80"/><polygon points="760.2,1729.1 762.4,1748.7 923.7,1370.6 921.5,1348.3" fill="#38b99e" stroke="#38b99e"/><polygon points="762.4,1748.7 764.6,1766.8 925.9,1393.1 923.7,1370.6" fill="#15b1b4" stroke="#15b1b4"/><polygon points="764.6,1766.8 766.8,1783.3 928.1,1412.6 925.9,1393.1" fill="#06a7c6" stroke="#06a7c6"/><polygon points="766.8,1783.3 769.0,1798.3 930.3,1429.6 928.1,1412.6" fill="#0998d1" stroke="#0998d1"/><polygon points="769.0,1798.3 771.2,1811.0 932.5,1444.1 930.3,1429.6" fill="#1485d4" stroke="#1485d4"/><polygon points="771.2,1811.0 773.4,1821.9 934.7,1456.1 932.5,1444.1" fill="#1079da" stroke="#1079da"/><polygon points="773.4,1821.9 775.5,1830.8 936.8,1466.1 934.7,1456.1" fill="#046de0" stroke="#046de0"/><polygon points="775.5,1830.8 777.7,1838.5 939.0,1473.1 936.8,1466.1" fill="#0f5cdd" stroke="#0f5cdd"/><polygon points="777.7,1838.5 779.9,1843.7 941.2,1479.2 939.0,1473.1" fill="#2c4ac7" stroke="#2c4ac7"/><polygon points="779.9,1843.7 782.1,1843.8 943.4,1482.8 941.2,1479.2" fill="#3243ba" stroke="#3243ba"/><polygon points="782.1,1843.8 784.3,1842.5 945.6,1482.8 943.4,1482.8" fill="#353dad" stroke="#353dad"/><polygon points="784.3,1842.5 786.5,1840.6 947.8,1481.2 945.6,1482.8" fill="#353dad" stroke="#353dad"/><polygon points="786.5,1840.6 788.6,1838.3 949.9,1479.0 947.8,1481.2" fill="#353dad" stroke="#353dad"/><polygon points="788.6,1838.3 790.8,1836.1 952.1,1476.7 949.9,1479.0" fill="#353dad" stroke="#353dad"/><polygon points="790.8,1836.1 793.0,1834.5 954.3,1474.9 952.1,1476.7" fill="#3243ba" stroke="#3243ba"/><polygon points="793.0,1834.5 795.2,1833.5 956.5,1473.0 954.3,1474.9" fill="#3243ba" stroke="#3243ba"/><polygon points="795.2,1833.5 797.4,1832.7 958.7,1471.1 956.5,1473.0" fill="#2c4ac7" stroke="#2c4ac7"/><polygon points="797.4,1832.7 799.6,1831.9 960.9,1469.4 958.7,1471.1" fill="#2c4ac7" stroke="#2c4ac7"/><polygon points="799.6,1831.9 801.8,1831.3 963.0,1468.0 960.9,1469.4" fill="#2c4ac7" stroke="#2c4ac7"/><polygon points="801.8,1831.3 803.9,1831.0 965.2,1467.3 963.0,1468.0" fill="#2c4ac7" stroke="#2c4ac7"/><polygon points="803.9,1831.0 806.1,1831.0 967.4,1467.5 965.2,1467.3" fill="#2053d4" stroke="#2053d4"/><polygon points="806.1,1831.0 808.3,1831.9 969.6,1468.3 967.4,1467.5" fill="#2053d4" stroke="#2053d4"/><polygon points="808.3,1831.9 810.5,1833.7 971.8,1469.7 969.6,1468.3" fill="#2053d4" stroke="#2053d4"/><polygon points="810.5,1833.7 812.7,1835.9 974.0,1471.4 971.8,1469.7" fill="#2c4ac7" stroke="#2c4ac7"/><polygon points="812.7,1835.9 814.9,1838.3 976.2,1473.3 974.0,1471.4" fill="#2c4ac7" stroke="#2c4ac7"/><polygon points="814.9,1838.3 817.0,1840.5 978.3,1475.2 976.2,1473.3" fill="#2c4ac7" stroke="#2c4ac7"/><polygon points="817.0,1840.5 819.2,1842.6 980.5,1477.4 978.3,1475.2" fill="#3243ba" stroke="#3243ba"/><polygon points="819.2,1842.6 821.4,1844.8 982.7,1480.1 980.5,1477.4" fill="#3243ba" stroke="#3243ba"/><polygon points="821.4,1844.8 823.6,1847.1 984.9,1482.9 982.7,1480.1" fill="#353dad" stroke="#353dad"/><polygon points="823.6,1847.1 825.8,1849.3 987.1,1485.5 984.9,1482.9" fill="#353dad" stroke="#353dad"/><polygon points="825.8,1849.3 828.0,1851.4 989.3,1487.7 987.1,1485.5" fill="#3637a0" stroke="#3637a0"/><polygon points="828.0,1851.4 830.1,1853.5 991.4,1489.4 989.3,1487.7" fill="#3637a0" stroke="#3637a0"/><polygon points="830.1,1853.5 832.3,1855.7 993.6,1491.1 991.4,1489.4" fill="#3637a0" stroke="#3637a0"/><polygon points="832.3,1855.7 834.5,1857.5 995.8,1492.5 993.6,1491.1" fill="#363093" stroke="#363093"/><polygon points="834.5,1857.5 836.7,1858.7 998.0,1493.8 995.8,1492.5" fill="#363093" stroke="#363093"/><polygon points="836.7,1858.7 838.9,1859.2 1000.2,1494.7 998.0,1493.8" fill="#363093" stroke="#363093"/><polygon points="838.9,1859.2 841.1,1859.7 1002.4,1495.6 1000.2,1494.7" fill="#352a87" stroke="#352a87"/><polygon points="841.1,1859.7 843.3,1860.1 1004.6,1496.3 1002.4,1495.6" fill="#352a87" stroke="#352a87"/><polygon points="843.3,1860.1 845.4,1860.4 1006.7,1497.0 1004.6,1496.3" fill="#352a87" stroke="#352a87"/><polygon points="845.4,1860.4 847.6,1860.7 1008.9,1497.6 1006.7,1497.0" fill="#352a87" stroke="#352a87"/><polygon points="847.6,1860.7 849.8,1860.9 1011.1,1498.1 1008.9,1497.6" fill="#352a87" stroke="#352a87"/><polygon points="849.8,1860.9 852.0,1861.0 1013.3,1498.6 1011.1,1498.1" fill="#352a87" stroke="#352a87"/><polygon points="852.0,1861.0 854.2,1861.1 1015.5,1499.0 1013.3,1498.6" fill="#352a87" stroke="#352a87"/><polygon points="854.2,1861.1 856.4,1861.1 1017.7,1499.4 1015.5,1499.0" fill="#352a87" stroke="#352a87"/><polygon points="856.4,1861.1 858.5,1861.2 1019.8,1499.8 1017.7,1499.4" fill="#352a87" stroke="#352a87"/><polygon points="858.5,1861.2 860.7,1861.3 1022.0,1500.1 1019.8,1499.8" fill="#352a87" stroke="#352a87"/><polygon points="860.7,1861.3 862.9,1861.4 1024.2,1500.4 1022.0,1500.1" fill="#352a87" stroke="#352a87"/><polygon points="862.9,1861.4 865.1,1861.5 1026.4,1500.6 1024.2,1500.4" fill="#352a87" stroke="#352a87"/><polygon points="865.1,1861.5 867.3,1861.6 1028.6,1500.8 1026.4,1500.6" fill="#352a87" stroke="#352a87"/><polygon points="867.3,1861.6 1168.8,1873.7 1330.1,1512.9 1028.6,1500.8" fill="#352a87" stroke="#352a87"/><polygon points="1168.8,1873.7 1170.9,1873.8 1332.2,1513.0 1330.1,1512.9" fill="#352a87" stroke="#352a87"/><polygon points="1170.9,1873.8 1173.1,1873.9 1334.4,1513.0 1332.2,1513.0" fill="#352a87" stroke="#352a87"/><polygon points="1173.1,1873.9 1175.3,1873.9 1336.6,1513.0 1334.4,1513.0" fill="#352a87" stroke="#352a87"/><polygon points="1175.3,1873.9 1177.5,1873.8 1338.8,1512.9 1336.6,1513.0" fill="#352a87" stroke="#352a87"/><polygon points="1177.5,1873.8 1179.7,1873.6 1341.0,1512.6 1338.8,1512.9" fill="#352a87" stroke="#352a87"/><polygon points="1179.7,1873.6 1181.9,1873.4 1343.2,1511.4 1341.0,1512.6" fill="#352a87" stroke="#352a87"/><polygon points="1181.9,1873.4 1184.1,1872.8 1345.4,1509.6 1343.2,1511.4" fill="#352a87" stroke="#352a87"/><polygon points="1184.1,1872.8 1186.2,1871.1 1347.5,1506.6 1345.4,1509.6" fill="#352a87" stroke="#352a87"/><polygon points="1186.2,1871.1 1188.4,1868.4 1349.7,1502.1 1347.5,1506.6" fill="#363093" stroke="#363093"/><polygon points="1188.4,1868.4 1190.6,1865.2 1351.9,1497.0 1349.7,1502.1" fill="#363093" stroke="#363093"/><polygon points="1190.6,1865.2 1192.8,1861.9 1354.1,1492.3 1351.9,1497.0" fill="#3637a0" stroke="#3637a0"/><polygon points="1192.8,1861.9 1195.0,1857.7 1356.3,1487.9 1354.1,1492.3" fill="#353dad" stroke="#353dad"/><polygon points="1195.0,1857.7 1197.2,1852.8 1358.5,1483.5 1356.3,1487.9" fill="#3243ba" stroke="#3243ba"/><polygon points="1197.2,1852.8 1199.3,1847.6 1360.6,1479.1 1358.5,1483.5" fill="#2c4ac7" stroke="#2c4ac7"/><polygon points="1199.3,1847.6 1201.5,1842.6 1362.8,1474.7 1360.6,1479.1" fill="#2053d4" stroke="#2053d4"/><polygon points="1201.5,1842.6 1203.7,1837.4 1365.0,1470.4 1362.8,1474.7" fill="#0f5cdd" stroke="#0f5cdd"/><polygon points="1203.7,1837.4 1205.9,1832.2 1367.2,1466.0 1365.0,1470.4" fill="#0363e1" stroke="#0363e1"/><polygon points="1205.9,1832.2 1208.1,1827.1 1369.4,1461.7 1367.2,1466.0" fill="#0268e1" stroke="#0268e1"/><polygon points="1208.1,1827.1 1210.3,1822.0 1371.6,1457.4 1369.4,1461.7" fill="#046de0" stroke="#046de0"/><polygon points="1210.3,1822.0 1212.5,1816.8 1373.8,1453.0 1371.6,1457.4" fill="#0871de" stroke="#0871de"/><polygon points="1212.5,1816.8 1214.6,1812.2 1375.9,1448.0 1373.8,1453.0" fill="#0d75dc" stroke="#0d75dc"/><polygon points="1214.6,1812.2 1216.8,1808.6 1378.1,1443.6 1375.9,1448.0" fill="#1079da" stroke="#1079da"/><polygon points="1216.8,1808.6 1219.0,1805.3 1380.3,1441.0 1378.1,1443.6" fill="#127dd8" stroke="#127dd8"/><polygon points="1219.0,1805.3 1221.2,1802.8 1382.5,1439.0 1380.3,1441.0" fill="#127dd8" stroke="#127dd8"/><polygon points="1221.2,1802.8 1223.4,1802.2 1384.7,1438.1 1382.5,1439.0" fill="#1481d6" stroke="#1481d6"/><polygon points="1223.4,1802.2 1225.6,1803.7 1386.9,1438.8 1384.7,1438.1" fill="#1481d6" stroke="#1481d6"/><polygon points="1225.6,1803.7 1227.7,1806.6 1389.0,1440.7 1386.9,1438.8" fill="#1481d6" stroke="#1481d6"/><polygon points="1227.7,1806.6 1229.9,1810.1 1391.2,1443.2 1389.0,1440.7" fill="#1481d6" stroke="#1481d6"/><polygon points="1229.9,1810.1 1232.1,1815.1 1393.4,1447.1 1391.2,1443.2" fill="#127dd8" stroke="#127dd8"/><polygon points="1232.1,1815.1 1234.3,1821.3 1395.6,1452.1 1393.4,1447.1" fill="#127dd8" stroke="#127dd8"/><polygon points="1234.3,1821.3 1236.5,1827.3 1397.8,1457.2 1395.6,1452.1" fill="#1079da" stroke="#1079da"/><polygon points="1236.5,1827.3 1238.7,1833.0 1400.0,1462.8 1397.8,1457.2" fill="#0d75dc" stroke="#0d75dc"/><polygon points="1238.7,1833.0 1240.9,1838.4 1402.2,1468.1 1400.0,1462.8" fill="#0871de" stroke="#0871de"/><polygon points="1240.9,1838.4 1243.0,1843.1 1404.3,1473.2 1402.2,1468.1" fill="#0268e1" stroke="#0268e1"/><polygon points="1243.0,1843.1 1245.2,1847.3 1406.5,1478.0 1404.3,1473.2" fill="#0363e1" stroke="#0363e1"/><polygon points="1245.2,1847.3 1247.4,1851.1 1408.7,1482.4 1406.5,1478.0" fill="#0f5cdd" stroke="#0f5cdd"/><polygon points="1247.4,1851.1 1249.6,1853.6 1410.9,1486.4 1408.7,1482.4" fill="#2053d4" stroke="#2053d4"/><polygon points="1249.6,1853.6 1251.8,1855.3 1413.1,1489.2 1410.9,1486.4" fill="#2053d4" stroke="#2053d4"/><polygon points="1251.8,1855.3 1254.0,1856.5 1415.3,1491.5 1413.1,1489.2" fill="#2c4ac7" stroke="#2c4ac7"/><polygon points="1254.0,1856.5 1256.1,1856.9 1417.4,1492.6 1415.3,1491.5" fill="#2c4ac7" stroke="#2c4ac7"/><polygon points="1256.1,1856.9 1258.3,1856.4 1419.6,1492.4 1417.4,1492.6" fill="#3243ba" stroke="#3243ba"/><polygon points="1258.3,1856.4 1260.5,1855.3 1421.8,1491.5 1419.6,1492.4" fill="#3243ba" stroke="#3243ba"/><polygon points="1260.5,1855.3 1262.7,1853.8 1424.0,1489.8 1421.8,1491.5" fill="#3243ba" stroke="#3243ba"/><polygon points="1262.7,1853.8 1264.9,1851.5 1426.2,1485.3 1424.0,1489.8" fill="#2c4ac7" stroke="#2c4ac7"/><polygon points="1264.9,1851.5 1267.1,1847.5 1428.4,1480.1 1426.2,1485.3" fill="#2c4ac7" stroke="#2c4ac7"/><polygon points="1267.1,1847.5 1269.3,1842.7 1430.6,1475.2 1428.4,1480.1" fill="#2053d4" stroke="#2053d4"/><polygon points="1269.3,1842.7 1271.4,1838.0 1432.7,1470.1 1430.6,1475.2" fill="#0f5cdd" stroke="#0f5cdd"/><polygon points="1271.4,1838.0 1273.6,1832.7 1434.9,1465.4 1432.7,1470.1" fill="#0363e1" stroke="#0363e1"/><polygon points="1273.6,1832.7 1275.8,1827.1 1437.1,1461.0 1434.9,1465.4" fill="#0268e1" stroke="#0268e1"/><polygon points="1275.8,1827.1 1278.0,1822.1 1439.3,1457.0 1437.1,1461.0" fill="#0871de" stroke="#0871de"/><polygon points="1278.0,1822.1 1280.2,1818.3 1441.5,1453.2 1439.3,1457.0" fill="#0871de" stroke="#0871de"/><polygon points="1280.2,1818.3 1282.4,1814.5 1443.7,1450.1 1441.5,1453.2" fill="#0d75dc" stroke="#0d75dc"/><polygon points="1282.4,1814.5 1284.5,1811.6 1445.8,1448.2 1443.7,1450.1" fill="#1079da" stroke="#1079da"/><polygon points="1284.5,1811.6 1286.7,1810.2 1448.0,1446.7 1445.8,1448.2" fill="#127dd8" stroke="#127dd8"/><polygon points="1286.7,1810.2 1288.9,1811.1 1450.2,1446.1 1448.0,1446.7" fill="#127dd8" stroke="#127dd8"/><polygon points="1288.9,1811.1 1291.1,1813.7 1452.4,1446.7 1450.2,1446.1" fill="#127dd8" stroke="#127dd8"/><polygon points="1291.1,1813.7 1293.3,1817.3 1454.6,1448.0 1452.4,1446.7" fill="#127dd8" stroke="#127dd8"/><polygon points="1293.3,1817.3 1295.5,1820.9 1456.8,1449.8 1454.6,1448.0" fill="#127dd8" stroke="#127dd8"/><polygon points="1295.5,1820.9 1297.7,1825.4 1459.0,1453.2 1456.8,1449.8" fill="#1079da" stroke="#1079da"/><polygon points="1297.7,1825.4 1299.8,1830.7 1461.1,1457.7 1459.0,1453.2" fill="#1079da" stroke="#1079da"/><polygon points="1299.8,1830.7 1302.0,1836.3 1463.3,1462.2 1461.1,1457.7" fill="#0d75dc" stroke="#0d75dc"/><polygon points="1302.0,1836.3 1304.2,1841.4 1465.5,1467.2 1463.3,1462.2" fill="#0871de" stroke="#0871de"/><polygon points="1304.2,1841.4 1306.4,1846.7 1467.7,1472.4 1465.5,1467.2" fill="#046de0" stroke="#046de0"/><polygon points="1306.4,1846.7 1308.6,1851.8 1469.9,1478.2 1467.7,1472.4" fill="#0268e1" stroke="#0268e1"/><polygon points="1308.6,1851.8 1310.8,1856.8 1472.1,1484.1 1469.9,1478.2" fill="#0363e1" stroke="#0363e1"/><polygon points="1310.8,1856.8 1312.9,1861.6 1474.2,1489.5 1472.1,1484.1" fill="#2053d4" stroke="#2053d4"/><polygon points="1312.9,1861.6 1315.1,1866.4 1476.4,1494.7 1474.2,1489.5" fill="#2c4ac7" stroke="#2c4ac7"/><polygon points="1315.1,1866.4 1317.3,1870.3 1478.6,1499.5 1476.4,1494.7" fill="#3243ba" stroke="#3243ba"/><polygon points="1317.3,1870.3 1319.5,1873.2 1480.8,1503.6 1478.6,1499.5" fill="#353dad" stroke="#353dad"/><polygon points="1319.5,1873.2 1321.7,1875.9 1483.0,1507.1 1480.8,1503.6" fill="#3637a0" stroke="#3637a0"/><polygon points="1321.7,1875.9 1323.9,1878.0 1485.2,1510.2 1483.0,1507.1" fill="#3637a0" stroke="#3637a0"/><polygon points="1323.9,1878.0 1326.1,1879.0 1487.4,1512.5 1485.2,1510.2" fill="#363093" stroke="#363093"/><polygon points="1326.1,1879.0 1328.2,1879.6 1489.5,1514.1 1487.4,1512.5" fill="#363093" stroke="#363093"/><polygon points="1328.2,1879.6 1330.4,1880.0 1491.7,1515.4 1489.5,1514.1" fill="#352a87" stroke="#352a87"/><polygon points="1330.4,1880.0 1332.6,1880.2 1493.9,1516.5 1491.7,1515.4" fill="#352a87" stroke="#352a87"/><polygon points="1332.6,1880.2 1334.8,1880.4 1496.1,1517.5 1493.9,1516.5" fill="#352a87" stroke="#352a87"/><polygon points="1334.8,1880.4 1337.0,1880.5 1498.3,1518.5 1496.1,1517.5" fill="#352a87" stroke="#352a87"/><polygon points="1337.0,1880.5 1339.2,1880.5 1500.5,1519.2 1498.3,1518.5" fill="#352a87" stroke="#352a87"/><polygon points="1339.2,1880.5 1341.3,1880.6 1502.6,1519.5 1500.5,1519.2" fill="#352a87" stroke="#352a87"/><polygon points="1341.3,1880.6 1343.5,1880.7 1504.8,1519.8 1502.6,1519.5" fill="#352a87" stroke="#352a87"/><polygon points="1343.5,1880.7 1345.7,1880.8 1507.0,1520.0 1504.8,1519.8" fill="#352a87" stroke="#352a87"/><polygon points="1345.7,1880.8 1347.9,1880.9 1509.2,1520.1 1507.0,1520.0" fill="#352a87" stroke="#352a87"/><polygon points="1347.9,1880.9 1459.9,1885.4 1621.2,1524.6 1509.2,1520.1" fill="#352a87" stroke="#352a87"/></g>
<g font-family="'Liberation Sans', Arial, sans-serif" fill="#383838"><text x="211.0" y="1848.3" font-size="33" text-anchor="end" >0</text><text x="211.0" y="1746.0" font-size="33" text-anchor="end" >0.02</text><text x="211.0" y="1643.7" font-size="33" text-anchor="end" >0.04</text><text x="211.0" y="1541.4" font-size="33" text-anchor="end" >0.06</text><text x="211.0" y="1439.1" font-size="33" text-anchor="end" >0.08</text><text x="234.3" y="1913.7" font-size="33" text-anchor="end" >0</text><text x="346.6" y="1918.3" font-size="33" text-anchor="end" >0.02</text><text x="455.7" y="1922.7" font-size="33" text-anchor="end" >0.04</text><text x="564.8" y="1927.0" font-size="33" text-anchor="end" >0.06</text><text x="673.9" y="1931.4" font-size="33" text-anchor="end" >0.08</text><text x="783.0" y="1935.7" font-size="33" text-anchor="end" >0.1</text><text x="892.1" y="1940.1" font-size="33" text-anchor="end" >0.12</text><text x="1001.2" y="1944.4" font-size="33" text-anchor="end" >0.14</text><text x="1110.3" y="1948.8" font-size="33" text-anchor="end" >0.16</text><text x="1219.4" y="1953.1" font-size="33" text-anchor="end" >0.18</text><text x="1328.5" y="1957.5" font-size="33" text-anchor="end" >0.2</text><text x="1672.0" y="1561.8" font-size="33" text-anchor="middle" >0</text><text x="1642.0" y="1652.3" font-size="33" text-anchor="middle" >50</text><text x="1610.0" y="1742.5" font-size="33" text-anchor="middle" >100</text><text x="1570.0" y="1833.8" font-size="33" text-anchor="middle" >150</text><text x="1527.6" y="1923.8" font-size="33" text-anchor="middle" >200</text><text x="1675.0" y="1813.0" font-size="36.5" text-anchor="middle" >time,s</text><text x="671.3" y="1990" font-size="33" text-anchor="middle">1/L, m<tspan dy="-16.5" font-size="26.4">-1</tspan></text><text transform="translate(127.8,1634) rotate(-90)" font-size="35.5" text-anchor="middle">spectra, m<tspan dy="-18.5" font-size="26">3</tspan></text></g></g>
<g font-family="'Liberation Serif', 'Times New Roman', serif" font-size="42.5" fill="#000" text-anchor="middle"><text x="908.2" y="957">(<tspan font-weight="bold" font-size="40.5">a</tspan>)</text><text x="908.4" y="2066">(<tspan font-weight="bold" font-size="40.5">b</tspan>)</text></g>
</svg></body></html>
